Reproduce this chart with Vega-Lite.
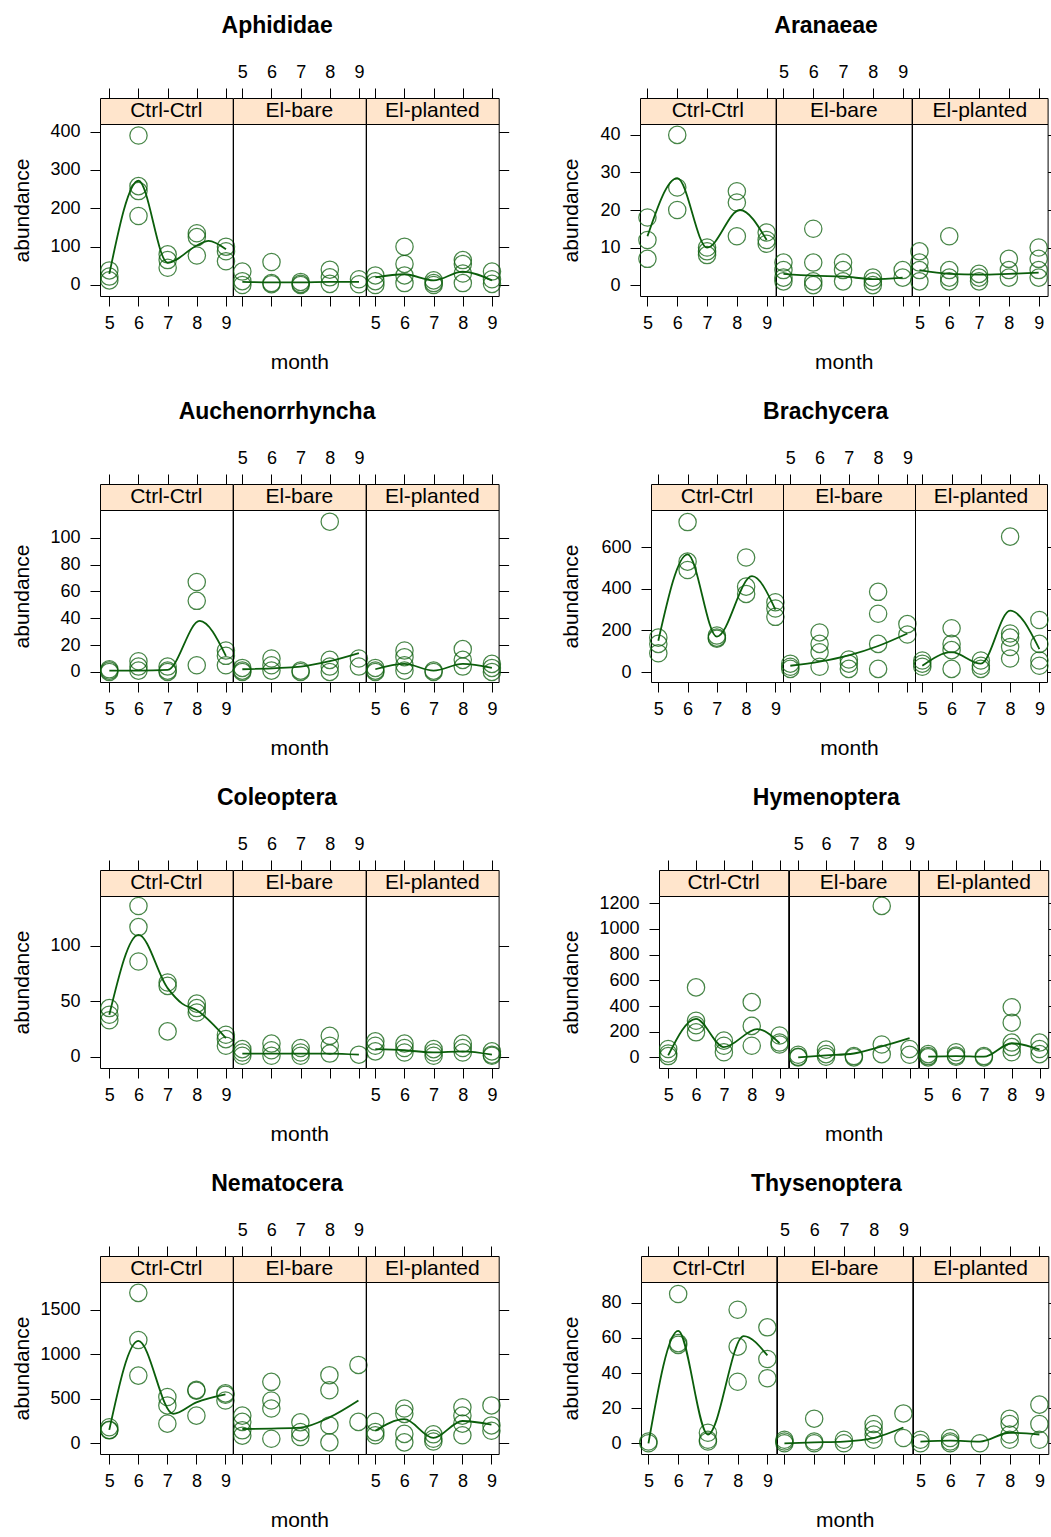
{
"$schema": "https://vega.github.io/schema/vega-lite/v6.json",
"background": "white",
"padding": {"left": 10, "top": 14, "right": 0, "bottom": 0},
"config": {
 "font": "Liberation Sans",
 "view": {"stroke": "black", "strokeWidth": 1},
 "axis": {"grid": false, "domain": false, "tickColor": "black", "tickSize": 10, "tickWidth": 1, "labelFontSize": 18, "labelColor": "black", "labelFont": "Liberation Sans", "titleFont": "Liberation Sans", "titleFontSize": 21, "titleFontWeight": "normal", "titleColor": "black"},
 "title": {"font": "Liberation Sans", "fontSize": 23, "fontWeight": "bold", "color": "black", "anchor": "middle"}
},
"datasets": {
"pts": [
{"sp":"Aphididae","treat":"Ctrl-Ctrl","month":5,"abundance":38},{"sp":"Aphididae","treat":"Ctrl-Ctrl","month":5,"abundance":22},{"sp":"Aphididae","treat":"Ctrl-Ctrl","month":5,"abundance":12},
{"sp":"Aphididae","treat":"Ctrl-Ctrl","month":6,"abundance":390},{"sp":"Aphididae","treat":"Ctrl-Ctrl","month":6,"abundance":258},{"sp":"Aphididae","treat":"Ctrl-Ctrl","month":6,"abundance":245},{"sp":"Aphididae","treat":"Ctrl-Ctrl","month":6,"abundance":180},
{"sp":"Aphididae","treat":"Ctrl-Ctrl","month":7,"abundance":80},{"sp":"Aphididae","treat":"Ctrl-Ctrl","month":7,"abundance":65},{"sp":"Aphididae","treat":"Ctrl-Ctrl","month":7,"abundance":45},
{"sp":"Aphididae","treat":"Ctrl-Ctrl","month":8,"abundance":135},{"sp":"Aphididae","treat":"Ctrl-Ctrl","month":8,"abundance":125},{"sp":"Aphididae","treat":"Ctrl-Ctrl","month":8,"abundance":77},
{"sp":"Aphididae","treat":"Ctrl-Ctrl","month":9,"abundance":100},{"sp":"Aphididae","treat":"Ctrl-Ctrl","month":9,"abundance":88},{"sp":"Aphididae","treat":"Ctrl-Ctrl","month":9,"abundance":62},
{"sp":"Aphididae","treat":"El-bare","month":5,"abundance":35},{"sp":"Aphididae","treat":"El-bare","month":5,"abundance":10},{"sp":"Aphididae","treat":"El-bare","month":5,"abundance":0},
{"sp":"Aphididae","treat":"El-bare","month":6,"abundance":60},{"sp":"Aphididae","treat":"El-bare","month":6,"abundance":5},{"sp":"Aphididae","treat":"El-bare","month":6,"abundance":2},
{"sp":"Aphididae","treat":"El-bare","month":7,"abundance":8},{"sp":"Aphididae","treat":"El-bare","month":7,"abundance":3},{"sp":"Aphididae","treat":"El-bare","month":7,"abundance":0},
{"sp":"Aphididae","treat":"El-bare","month":8,"abundance":40},{"sp":"Aphididae","treat":"El-bare","month":8,"abundance":20},{"sp":"Aphididae","treat":"El-bare","month":8,"abundance":3},
{"sp":"Aphididae","treat":"El-bare","month":9,"abundance":15},{"sp":"Aphididae","treat":"El-bare","month":9,"abundance":2},
{"sp":"Aphididae","treat":"El-planted","month":5,"abundance":25},{"sp":"Aphididae","treat":"El-planted","month":5,"abundance":10},{"sp":"Aphididae","treat":"El-planted","month":5,"abundance":0},
{"sp":"Aphididae","treat":"El-planted","month":6,"abundance":100},{"sp":"Aphididae","treat":"El-planted","month":6,"abundance":55},{"sp":"Aphididae","treat":"El-planted","month":6,"abundance":25},{"sp":"Aphididae","treat":"El-planted","month":6,"abundance":5},
{"sp":"Aphididae","treat":"El-planted","month":7,"abundance":12},{"sp":"Aphididae","treat":"El-planted","month":7,"abundance":5},{"sp":"Aphididae","treat":"El-planted","month":7,"abundance":0},
{"sp":"Aphididae","treat":"El-planted","month":8,"abundance":65},{"sp":"Aphididae","treat":"El-planted","month":8,"abundance":55},{"sp":"Aphididae","treat":"El-planted","month":8,"abundance":30},{"sp":"Aphididae","treat":"El-planted","month":8,"abundance":5},
{"sp":"Aphididae","treat":"El-planted","month":9,"abundance":35},{"sp":"Aphididae","treat":"El-planted","month":9,"abundance":15},{"sp":"Aphididae","treat":"El-planted","month":9,"abundance":3},

{"sp":"Aranaeae","treat":"Ctrl-Ctrl","month":5,"abundance":18},{"sp":"Aranaeae","treat":"Ctrl-Ctrl","month":5,"abundance":12},{"sp":"Aranaeae","treat":"Ctrl-Ctrl","month":5,"abundance":7},
{"sp":"Aranaeae","treat":"Ctrl-Ctrl","month":6,"abundance":40},{"sp":"Aranaeae","treat":"Ctrl-Ctrl","month":6,"abundance":26},{"sp":"Aranaeae","treat":"Ctrl-Ctrl","month":6,"abundance":20},
{"sp":"Aranaeae","treat":"Ctrl-Ctrl","month":7,"abundance":10},{"sp":"Aranaeae","treat":"Ctrl-Ctrl","month":7,"abundance":9},{"sp":"Aranaeae","treat":"Ctrl-Ctrl","month":7,"abundance":8},
{"sp":"Aranaeae","treat":"Ctrl-Ctrl","month":8,"abundance":25},{"sp":"Aranaeae","treat":"Ctrl-Ctrl","month":8,"abundance":22},{"sp":"Aranaeae","treat":"Ctrl-Ctrl","month":8,"abundance":13},
{"sp":"Aranaeae","treat":"Ctrl-Ctrl","month":9,"abundance":14},{"sp":"Aranaeae","treat":"Ctrl-Ctrl","month":9,"abundance":12},{"sp":"Aranaeae","treat":"Ctrl-Ctrl","month":9,"abundance":11},
{"sp":"Aranaeae","treat":"El-bare","month":5,"abundance":6},{"sp":"Aranaeae","treat":"El-bare","month":5,"abundance":4},{"sp":"Aranaeae","treat":"El-bare","month":5,"abundance":2},{"sp":"Aranaeae","treat":"El-bare","month":5,"abundance":1},
{"sp":"Aranaeae","treat":"El-bare","month":6,"abundance":15},{"sp":"Aranaeae","treat":"El-bare","month":6,"abundance":6},{"sp":"Aranaeae","treat":"El-bare","month":6,"abundance":1},{"sp":"Aranaeae","treat":"El-bare","month":6,"abundance":0},
{"sp":"Aranaeae","treat":"El-bare","month":7,"abundance":6},{"sp":"Aranaeae","treat":"El-bare","month":7,"abundance":4},{"sp":"Aranaeae","treat":"El-bare","month":7,"abundance":1},
{"sp":"Aranaeae","treat":"El-bare","month":8,"abundance":2},{"sp":"Aranaeae","treat":"El-bare","month":8,"abundance":1},{"sp":"Aranaeae","treat":"El-bare","month":8,"abundance":0},
{"sp":"Aranaeae","treat":"El-bare","month":9,"abundance":4},{"sp":"Aranaeae","treat":"El-bare","month":9,"abundance":2},
{"sp":"Aranaeae","treat":"El-planted","month":5,"abundance":9},{"sp":"Aranaeae","treat":"El-planted","month":5,"abundance":6},{"sp":"Aranaeae","treat":"El-planted","month":5,"abundance":4},{"sp":"Aranaeae","treat":"El-planted","month":5,"abundance":1},
{"sp":"Aranaeae","treat":"El-planted","month":6,"abundance":13},{"sp":"Aranaeae","treat":"El-planted","month":6,"abundance":4},{"sp":"Aranaeae","treat":"El-planted","month":6,"abundance":2},{"sp":"Aranaeae","treat":"El-planted","month":6,"abundance":1},
{"sp":"Aranaeae","treat":"El-planted","month":7,"abundance":3},{"sp":"Aranaeae","treat":"El-planted","month":7,"abundance":2},{"sp":"Aranaeae","treat":"El-planted","month":7,"abundance":1},
{"sp":"Aranaeae","treat":"El-planted","month":8,"abundance":7},{"sp":"Aranaeae","treat":"El-planted","month":8,"abundance":4},{"sp":"Aranaeae","treat":"El-planted","month":8,"abundance":2},
{"sp":"Aranaeae","treat":"El-planted","month":9,"abundance":10},{"sp":"Aranaeae","treat":"El-planted","month":9,"abundance":7},{"sp":"Aranaeae","treat":"El-planted","month":9,"abundance":4},{"sp":"Aranaeae","treat":"El-planted","month":9,"abundance":2},

{"sp":"Auchenorrhyncha","treat":"Ctrl-Ctrl","month":5,"abundance":2},{"sp":"Auchenorrhyncha","treat":"Ctrl-Ctrl","month":5,"abundance":1},{"sp":"Auchenorrhyncha","treat":"Ctrl-Ctrl","month":5,"abundance":0},
{"sp":"Auchenorrhyncha","treat":"Ctrl-Ctrl","month":6,"abundance":8},{"sp":"Auchenorrhyncha","treat":"Ctrl-Ctrl","month":6,"abundance":4},{"sp":"Auchenorrhyncha","treat":"Ctrl-Ctrl","month":6,"abundance":1},
{"sp":"Auchenorrhyncha","treat":"Ctrl-Ctrl","month":7,"abundance":4},{"sp":"Auchenorrhyncha","treat":"Ctrl-Ctrl","month":7,"abundance":1},{"sp":"Auchenorrhyncha","treat":"Ctrl-Ctrl","month":7,"abundance":0},
{"sp":"Auchenorrhyncha","treat":"Ctrl-Ctrl","month":8,"abundance":67},{"sp":"Auchenorrhyncha","treat":"Ctrl-Ctrl","month":8,"abundance":53},{"sp":"Auchenorrhyncha","treat":"Ctrl-Ctrl","month":8,"abundance":5},
{"sp":"Auchenorrhyncha","treat":"Ctrl-Ctrl","month":9,"abundance":16},{"sp":"Auchenorrhyncha","treat":"Ctrl-Ctrl","month":9,"abundance":12},{"sp":"Auchenorrhyncha","treat":"Ctrl-Ctrl","month":9,"abundance":5},
{"sp":"Auchenorrhyncha","treat":"El-bare","month":5,"abundance":3},{"sp":"Auchenorrhyncha","treat":"El-bare","month":5,"abundance":1},{"sp":"Auchenorrhyncha","treat":"El-bare","month":5,"abundance":0},
{"sp":"Auchenorrhyncha","treat":"El-bare","month":6,"abundance":10},{"sp":"Auchenorrhyncha","treat":"El-bare","month":6,"abundance":5},{"sp":"Auchenorrhyncha","treat":"El-bare","month":6,"abundance":1},
{"sp":"Auchenorrhyncha","treat":"El-bare","month":7,"abundance":1},{"sp":"Auchenorrhyncha","treat":"El-bare","month":7,"abundance":0},
{"sp":"Auchenorrhyncha","treat":"El-bare","month":8,"abundance":112},{"sp":"Auchenorrhyncha","treat":"El-bare","month":8,"abundance":9},{"sp":"Auchenorrhyncha","treat":"El-bare","month":8,"abundance":4},{"sp":"Auchenorrhyncha","treat":"El-bare","month":8,"abundance":0},
{"sp":"Auchenorrhyncha","treat":"El-bare","month":9,"abundance":10},{"sp":"Auchenorrhyncha","treat":"El-bare","month":9,"abundance":4},
{"sp":"Auchenorrhyncha","treat":"El-planted","month":5,"abundance":3},{"sp":"Auchenorrhyncha","treat":"El-planted","month":5,"abundance":1},{"sp":"Auchenorrhyncha","treat":"El-planted","month":5,"abundance":0},
{"sp":"Auchenorrhyncha","treat":"El-planted","month":6,"abundance":16},{"sp":"Auchenorrhyncha","treat":"El-planted","month":6,"abundance":11},{"sp":"Auchenorrhyncha","treat":"El-planted","month":6,"abundance":5},{"sp":"Auchenorrhyncha","treat":"El-planted","month":6,"abundance":1},
{"sp":"Auchenorrhyncha","treat":"El-planted","month":7,"abundance":1},{"sp":"Auchenorrhyncha","treat":"El-planted","month":7,"abundance":0},
{"sp":"Auchenorrhyncha","treat":"El-planted","month":8,"abundance":17},{"sp":"Auchenorrhyncha","treat":"El-planted","month":8,"abundance":9},{"sp":"Auchenorrhyncha","treat":"El-planted","month":8,"abundance":4},
{"sp":"Auchenorrhyncha","treat":"El-planted","month":9,"abundance":6},{"sp":"Auchenorrhyncha","treat":"El-planted","month":9,"abundance":3},{"sp":"Auchenorrhyncha","treat":"El-planted","month":9,"abundance":0},

{"sp":"Brachycera","treat":"Ctrl-Ctrl","month":5,"abundance":165},{"sp":"Brachycera","treat":"Ctrl-Ctrl","month":5,"abundance":135},{"sp":"Brachycera","treat":"Ctrl-Ctrl","month":5,"abundance":90},
{"sp":"Brachycera","treat":"Ctrl-Ctrl","month":6,"abundance":720},{"sp":"Brachycera","treat":"Ctrl-Ctrl","month":6,"abundance":530},{"sp":"Brachycera","treat":"Ctrl-Ctrl","month":6,"abundance":490},
{"sp":"Brachycera","treat":"Ctrl-Ctrl","month":7,"abundance":175},{"sp":"Brachycera","treat":"Ctrl-Ctrl","month":7,"abundance":165},{"sp":"Brachycera","treat":"Ctrl-Ctrl","month":7,"abundance":160},
{"sp":"Brachycera","treat":"Ctrl-Ctrl","month":8,"abundance":550},{"sp":"Brachycera","treat":"Ctrl-Ctrl","month":8,"abundance":410},{"sp":"Brachycera","treat":"Ctrl-Ctrl","month":8,"abundance":375},
{"sp":"Brachycera","treat":"Ctrl-Ctrl","month":9,"abundance":335},{"sp":"Brachycera","treat":"Ctrl-Ctrl","month":9,"abundance":305},{"sp":"Brachycera","treat":"Ctrl-Ctrl","month":9,"abundance":265},
{"sp":"Brachycera","treat":"El-bare","month":5,"abundance":40},{"sp":"Brachycera","treat":"El-bare","month":5,"abundance":25},{"sp":"Brachycera","treat":"El-bare","month":5,"abundance":15},
{"sp":"Brachycera","treat":"El-bare","month":6,"abundance":190},{"sp":"Brachycera","treat":"El-bare","month":6,"abundance":135},{"sp":"Brachycera","treat":"El-bare","month":6,"abundance":95},{"sp":"Brachycera","treat":"El-bare","month":6,"abundance":25},
{"sp":"Brachycera","treat":"El-bare","month":7,"abundance":60},{"sp":"Brachycera","treat":"El-bare","month":7,"abundance":40},{"sp":"Brachycera","treat":"El-bare","month":7,"abundance":15},
{"sp":"Brachycera","treat":"El-bare","month":8,"abundance":385},{"sp":"Brachycera","treat":"El-bare","month":8,"abundance":280},{"sp":"Brachycera","treat":"El-bare","month":8,"abundance":135},{"sp":"Brachycera","treat":"El-bare","month":8,"abundance":15},
{"sp":"Brachycera","treat":"El-bare","month":9,"abundance":230},{"sp":"Brachycera","treat":"El-bare","month":9,"abundance":180},
{"sp":"Brachycera","treat":"El-planted","month":5,"abundance":55},{"sp":"Brachycera","treat":"El-planted","month":5,"abundance":40},{"sp":"Brachycera","treat":"El-planted","month":5,"abundance":25},
{"sp":"Brachycera","treat":"El-planted","month":6,"abundance":210},{"sp":"Brachycera","treat":"El-planted","month":6,"abundance":135},{"sp":"Brachycera","treat":"El-planted","month":6,"abundance":105},{"sp":"Brachycera","treat":"El-planted","month":6,"abundance":15},
{"sp":"Brachycera","treat":"El-planted","month":7,"abundance":55},{"sp":"Brachycera","treat":"El-planted","month":7,"abundance":30},{"sp":"Brachycera","treat":"El-planted","month":7,"abundance":15},
{"sp":"Brachycera","treat":"El-planted","month":8,"abundance":650},{"sp":"Brachycera","treat":"El-planted","month":8,"abundance":185},{"sp":"Brachycera","treat":"El-planted","month":8,"abundance":165},{"sp":"Brachycera","treat":"El-planted","month":8,"abundance":120},{"sp":"Brachycera","treat":"El-planted","month":8,"abundance":65},
{"sp":"Brachycera","treat":"El-planted","month":9,"abundance":250},{"sp":"Brachycera","treat":"El-planted","month":9,"abundance":135},{"sp":"Brachycera","treat":"El-planted","month":9,"abundance":55},{"sp":"Brachycera","treat":"El-planted","month":9,"abundance":30},

{"sp":"Coleoptera","treat":"Ctrl-Ctrl","month":5,"abundance":44},{"sp":"Coleoptera","treat":"Ctrl-Ctrl","month":5,"abundance":38},{"sp":"Coleoptera","treat":"Ctrl-Ctrl","month":5,"abundance":33},
{"sp":"Coleoptera","treat":"Ctrl-Ctrl","month":6,"abundance":136},{"sp":"Coleoptera","treat":"Ctrl-Ctrl","month":6,"abundance":117},{"sp":"Coleoptera","treat":"Ctrl-Ctrl","month":6,"abundance":86},
{"sp":"Coleoptera","treat":"Ctrl-Ctrl","month":7,"abundance":67},{"sp":"Coleoptera","treat":"Ctrl-Ctrl","month":7,"abundance":64},{"sp":"Coleoptera","treat":"Ctrl-Ctrl","month":7,"abundance":23},
{"sp":"Coleoptera","treat":"Ctrl-Ctrl","month":8,"abundance":48},{"sp":"Coleoptera","treat":"Ctrl-Ctrl","month":8,"abundance":44},{"sp":"Coleoptera","treat":"Ctrl-Ctrl","month":8,"abundance":40},
{"sp":"Coleoptera","treat":"Ctrl-Ctrl","month":9,"abundance":20},{"sp":"Coleoptera","treat":"Ctrl-Ctrl","month":9,"abundance":16},{"sp":"Coleoptera","treat":"Ctrl-Ctrl","month":9,"abundance":10},
{"sp":"Coleoptera","treat":"El-bare","month":5,"abundance":7},{"sp":"Coleoptera","treat":"El-bare","month":5,"abundance":4},{"sp":"Coleoptera","treat":"El-bare","month":5,"abundance":1},
{"sp":"Coleoptera","treat":"El-bare","month":6,"abundance":12},{"sp":"Coleoptera","treat":"El-bare","month":6,"abundance":6},{"sp":"Coleoptera","treat":"El-bare","month":6,"abundance":1},
{"sp":"Coleoptera","treat":"El-bare","month":7,"abundance":8},{"sp":"Coleoptera","treat":"El-bare","month":7,"abundance":4},{"sp":"Coleoptera","treat":"El-bare","month":7,"abundance":1},
{"sp":"Coleoptera","treat":"El-bare","month":8,"abundance":19},{"sp":"Coleoptera","treat":"El-bare","month":8,"abundance":10},{"sp":"Coleoptera","treat":"El-bare","month":8,"abundance":3},
{"sp":"Coleoptera","treat":"El-bare","month":9,"abundance":2},
{"sp":"Coleoptera","treat":"El-planted","month":5,"abundance":14},{"sp":"Coleoptera","treat":"El-planted","month":5,"abundance":10},{"sp":"Coleoptera","treat":"El-planted","month":5,"abundance":5},
{"sp":"Coleoptera","treat":"El-planted","month":6,"abundance":12},{"sp":"Coleoptera","treat":"El-planted","month":6,"abundance":8},{"sp":"Coleoptera","treat":"El-planted","month":6,"abundance":4},
{"sp":"Coleoptera","treat":"El-planted","month":7,"abundance":7},{"sp":"Coleoptera","treat":"El-planted","month":7,"abundance":4},{"sp":"Coleoptera","treat":"El-planted","month":7,"abundance":1},
{"sp":"Coleoptera","treat":"El-planted","month":8,"abundance":12},{"sp":"Coleoptera","treat":"El-planted","month":8,"abundance":8},{"sp":"Coleoptera","treat":"El-planted","month":8,"abundance":4},
{"sp":"Coleoptera","treat":"El-planted","month":9,"abundance":5},{"sp":"Coleoptera","treat":"El-planted","month":9,"abundance":2},{"sp":"Coleoptera","treat":"El-planted","month":9,"abundance":1},

{"sp":"Hymenoptera","treat":"Ctrl-Ctrl","month":5,"abundance":65},{"sp":"Hymenoptera","treat":"Ctrl-Ctrl","month":5,"abundance":30},{"sp":"Hymenoptera","treat":"Ctrl-Ctrl","month":5,"abundance":10},
{"sp":"Hymenoptera","treat":"Ctrl-Ctrl","month":6,"abundance":545},{"sp":"Hymenoptera","treat":"Ctrl-Ctrl","month":6,"abundance":285},{"sp":"Hymenoptera","treat":"Ctrl-Ctrl","month":6,"abundance":250},{"sp":"Hymenoptera","treat":"Ctrl-Ctrl","month":6,"abundance":195},
{"sp":"Hymenoptera","treat":"Ctrl-Ctrl","month":7,"abundance":130},{"sp":"Hymenoptera","treat":"Ctrl-Ctrl","month":7,"abundance":90},{"sp":"Hymenoptera","treat":"Ctrl-Ctrl","month":7,"abundance":40},
{"sp":"Hymenoptera","treat":"Ctrl-Ctrl","month":8,"abundance":430},{"sp":"Hymenoptera","treat":"Ctrl-Ctrl","month":8,"abundance":245},{"sp":"Hymenoptera","treat":"Ctrl-Ctrl","month":8,"abundance":90},
{"sp":"Hymenoptera","treat":"Ctrl-Ctrl","month":9,"abundance":170},{"sp":"Hymenoptera","treat":"Ctrl-Ctrl","month":9,"abundance":115},{"sp":"Hymenoptera","treat":"Ctrl-Ctrl","month":9,"abundance":100},
{"sp":"Hymenoptera","treat":"El-bare","month":5,"abundance":20},{"sp":"Hymenoptera","treat":"El-bare","month":5,"abundance":5},{"sp":"Hymenoptera","treat":"El-bare","month":5,"abundance":0},
{"sp":"Hymenoptera","treat":"El-bare","month":6,"abundance":60},{"sp":"Hymenoptera","treat":"El-bare","month":6,"abundance":25},{"sp":"Hymenoptera","treat":"El-bare","month":6,"abundance":5},
{"sp":"Hymenoptera","treat":"El-bare","month":7,"abundance":10},{"sp":"Hymenoptera","treat":"El-bare","month":7,"abundance":0},
{"sp":"Hymenoptera","treat":"El-bare","month":8,"abundance":1180},{"sp":"Hymenoptera","treat":"El-bare","month":8,"abundance":100},{"sp":"Hymenoptera","treat":"El-bare","month":8,"abundance":25},
{"sp":"Hymenoptera","treat":"El-bare","month":9,"abundance":65},{"sp":"Hymenoptera","treat":"El-bare","month":9,"abundance":20},
{"sp":"Hymenoptera","treat":"El-planted","month":5,"abundance":25},{"sp":"Hymenoptera","treat":"El-planted","month":5,"abundance":10},{"sp":"Hymenoptera","treat":"El-planted","month":5,"abundance":0},
{"sp":"Hymenoptera","treat":"El-planted","month":6,"abundance":40},{"sp":"Hymenoptera","treat":"El-planted","month":6,"abundance":15},{"sp":"Hymenoptera","treat":"El-planted","month":6,"abundance":5},
{"sp":"Hymenoptera","treat":"El-planted","month":7,"abundance":10},{"sp":"Hymenoptera","treat":"El-planted","month":7,"abundance":0},
{"sp":"Hymenoptera","treat":"El-planted","month":8,"abundance":390},{"sp":"Hymenoptera","treat":"El-planted","month":8,"abundance":270},{"sp":"Hymenoptera","treat":"El-planted","month":8,"abundance":115},{"sp":"Hymenoptera","treat":"El-planted","month":8,"abundance":80},{"sp":"Hymenoptera","treat":"El-planted","month":8,"abundance":40},
{"sp":"Hymenoptera","treat":"El-planted","month":9,"abundance":115},{"sp":"Hymenoptera","treat":"El-planted","month":9,"abundance":65},{"sp":"Hymenoptera","treat":"El-planted","month":9,"abundance":25},

{"sp":"Nematocera","treat":"Ctrl-Ctrl","month":5,"abundance":180},{"sp":"Nematocera","treat":"Ctrl-Ctrl","month":5,"abundance":150},{"sp":"Nematocera","treat":"Ctrl-Ctrl","month":5,"abundance":145},
{"sp":"Nematocera","treat":"Ctrl-Ctrl","month":6,"abundance":1690},{"sp":"Nematocera","treat":"Ctrl-Ctrl","month":6,"abundance":1160},{"sp":"Nematocera","treat":"Ctrl-Ctrl","month":6,"abundance":760},
{"sp":"Nematocera","treat":"Ctrl-Ctrl","month":7,"abundance":520},{"sp":"Nematocera","treat":"Ctrl-Ctrl","month":7,"abundance":425},{"sp":"Nematocera","treat":"Ctrl-Ctrl","month":7,"abundance":220},
{"sp":"Nematocera","treat":"Ctrl-Ctrl","month":8,"abundance":600},{"sp":"Nematocera","treat":"Ctrl-Ctrl","month":8,"abundance":590},{"sp":"Nematocera","treat":"Ctrl-Ctrl","month":8,"abundance":310},
{"sp":"Nematocera","treat":"Ctrl-Ctrl","month":9,"abundance":560},{"sp":"Nematocera","treat":"Ctrl-Ctrl","month":9,"abundance":545},{"sp":"Nematocera","treat":"Ctrl-Ctrl","month":9,"abundance":480},
{"sp":"Nematocera","treat":"El-bare","month":5,"abundance":310},{"sp":"Nematocera","treat":"El-bare","month":5,"abundance":240},{"sp":"Nematocera","treat":"El-bare","month":5,"abundance":145},{"sp":"Nematocera","treat":"El-bare","month":5,"abundance":85},
{"sp":"Nematocera","treat":"El-bare","month":6,"abundance":690},{"sp":"Nematocera","treat":"El-bare","month":6,"abundance":480},{"sp":"Nematocera","treat":"El-bare","month":6,"abundance":390},{"sp":"Nematocera","treat":"El-bare","month":6,"abundance":50},
{"sp":"Nematocera","treat":"El-bare","month":7,"abundance":235},{"sp":"Nematocera","treat":"El-bare","month":7,"abundance":125},{"sp":"Nematocera","treat":"El-bare","month":7,"abundance":70},
{"sp":"Nematocera","treat":"El-bare","month":8,"abundance":765},{"sp":"Nematocera","treat":"El-bare","month":8,"abundance":595},{"sp":"Nematocera","treat":"El-bare","month":8,"abundance":200},{"sp":"Nematocera","treat":"El-bare","month":8,"abundance":10},
{"sp":"Nematocera","treat":"El-bare","month":9,"abundance":880},{"sp":"Nematocera","treat":"El-bare","month":9,"abundance":240},
{"sp":"Nematocera","treat":"El-planted","month":5,"abundance":240},{"sp":"Nematocera","treat":"El-planted","month":5,"abundance":125},{"sp":"Nematocera","treat":"El-planted","month":5,"abundance":90},
{"sp":"Nematocera","treat":"El-planted","month":6,"abundance":390},{"sp":"Nematocera","treat":"El-planted","month":6,"abundance":330},{"sp":"Nematocera","treat":"El-planted","month":6,"abundance":105},{"sp":"Nematocera","treat":"El-planted","month":6,"abundance":10},
{"sp":"Nematocera","treat":"El-planted","month":7,"abundance":100},{"sp":"Nematocera","treat":"El-planted","month":7,"abundance":50},{"sp":"Nematocera","treat":"El-planted","month":7,"abundance":20},
{"sp":"Nematocera","treat":"El-planted","month":8,"abundance":405},{"sp":"Nematocera","treat":"El-planted","month":8,"abundance":310},{"sp":"Nematocera","treat":"El-planted","month":8,"abundance":220},{"sp":"Nematocera","treat":"El-planted","month":8,"abundance":90},
{"sp":"Nematocera","treat":"El-planted","month":9,"abundance":425},{"sp":"Nematocera","treat":"El-planted","month":9,"abundance":200},{"sp":"Nematocera","treat":"El-planted","month":9,"abundance":140},

{"sp":"Thysenoptera","treat":"Ctrl-Ctrl","month":5,"abundance":1},{"sp":"Thysenoptera","treat":"Ctrl-Ctrl","month":5,"abundance":0},
{"sp":"Thysenoptera","treat":"Ctrl-Ctrl","month":6,"abundance":85},{"sp":"Thysenoptera","treat":"Ctrl-Ctrl","month":6,"abundance":57},{"sp":"Thysenoptera","treat":"Ctrl-Ctrl","month":6,"abundance":56},
{"sp":"Thysenoptera","treat":"Ctrl-Ctrl","month":7,"abundance":6},{"sp":"Thysenoptera","treat":"Ctrl-Ctrl","month":7,"abundance":2},{"sp":"Thysenoptera","treat":"Ctrl-Ctrl","month":7,"abundance":1},
{"sp":"Thysenoptera","treat":"Ctrl-Ctrl","month":8,"abundance":76},{"sp":"Thysenoptera","treat":"Ctrl-Ctrl","month":8,"abundance":55},{"sp":"Thysenoptera","treat":"Ctrl-Ctrl","month":8,"abundance":35},
{"sp":"Thysenoptera","treat":"Ctrl-Ctrl","month":9,"abundance":66},{"sp":"Thysenoptera","treat":"Ctrl-Ctrl","month":9,"abundance":48},{"sp":"Thysenoptera","treat":"Ctrl-Ctrl","month":9,"abundance":37},
{"sp":"Thysenoptera","treat":"El-bare","month":5,"abundance":2},{"sp":"Thysenoptera","treat":"El-bare","month":5,"abundance":1},{"sp":"Thysenoptera","treat":"El-bare","month":5,"abundance":0},
{"sp":"Thysenoptera","treat":"El-bare","month":6,"abundance":14},{"sp":"Thysenoptera","treat":"El-bare","month":6,"abundance":1},{"sp":"Thysenoptera","treat":"El-bare","month":6,"abundance":0},
{"sp":"Thysenoptera","treat":"El-bare","month":7,"abundance":2},{"sp":"Thysenoptera","treat":"El-bare","month":7,"abundance":0},
{"sp":"Thysenoptera","treat":"El-bare","month":8,"abundance":11},{"sp":"Thysenoptera","treat":"El-bare","month":8,"abundance":8},{"sp":"Thysenoptera","treat":"El-bare","month":8,"abundance":5},{"sp":"Thysenoptera","treat":"El-bare","month":8,"abundance":2},
{"sp":"Thysenoptera","treat":"El-bare","month":9,"abundance":17},{"sp":"Thysenoptera","treat":"El-bare","month":9,"abundance":3},
{"sp":"Thysenoptera","treat":"El-planted","month":5,"abundance":2},{"sp":"Thysenoptera","treat":"El-planted","month":5,"abundance":0},
{"sp":"Thysenoptera","treat":"El-planted","month":6,"abundance":3},{"sp":"Thysenoptera","treat":"El-planted","month":6,"abundance":1},{"sp":"Thysenoptera","treat":"El-planted","month":6,"abundance":0},
{"sp":"Thysenoptera","treat":"El-planted","month":7,"abundance":0},
{"sp":"Thysenoptera","treat":"El-planted","month":8,"abundance":14},{"sp":"Thysenoptera","treat":"El-planted","month":8,"abundance":11},{"sp":"Thysenoptera","treat":"El-planted","month":8,"abundance":5},{"sp":"Thysenoptera","treat":"El-planted","month":8,"abundance":2},
{"sp":"Thysenoptera","treat":"El-planted","month":9,"abundance":22},{"sp":"Thysenoptera","treat":"El-planted","month":9,"abundance":11},{"sp":"Thysenoptera","treat":"El-planted","month":9,"abundance":2}
],
"fit": [
{"sp":"Aphididae","treat":"Ctrl-Ctrl","month":5,"fit":29},{"sp":"Aphididae","treat":"Ctrl-Ctrl","month":6,"fit":272},{"sp":"Aphididae","treat":"Ctrl-Ctrl","month":7,"fit":58},{"sp":"Aphididae","treat":"Ctrl-Ctrl","month":8,"fit":103},{"sp":"Aphididae","treat":"Ctrl-Ctrl","month":8.4,"fit":115},{"sp":"Aphididae","treat":"Ctrl-Ctrl","month":9,"fit":93},
{"sp":"Aphididae","treat":"El-bare","month":5,"fit":8},{"sp":"Aphididae","treat":"El-bare","month":6,"fit":7},{"sp":"Aphididae","treat":"El-bare","month":7,"fit":7},{"sp":"Aphididae","treat":"El-bare","month":8,"fit":8},{"sp":"Aphididae","treat":"El-bare","month":9,"fit":8},
{"sp":"Aphididae","treat":"El-planted","month":5,"fit":20},{"sp":"Aphididae","treat":"El-planted","month":6,"fit":28},{"sp":"Aphididae","treat":"El-planted","month":7,"fit":12},{"sp":"Aphididae","treat":"El-planted","month":8,"fit":35},{"sp":"Aphididae","treat":"El-planted","month":9,"fit":12},
{"sp":"Aranaeae","treat":"Ctrl-Ctrl","month":5,"fit":13},{"sp":"Aranaeae","treat":"Ctrl-Ctrl","month":6,"fit":28.5},{"sp":"Aranaeae","treat":"Ctrl-Ctrl","month":7,"fit":10},{"sp":"Aranaeae","treat":"Ctrl-Ctrl","month":8.1,"fit":20},{"sp":"Aranaeae","treat":"Ctrl-Ctrl","month":9,"fit":12},
{"sp":"Aranaeae","treat":"El-bare","month":5,"fit":3},{"sp":"Aranaeae","treat":"El-bare","month":6,"fit":2.5},{"sp":"Aranaeae","treat":"El-bare","month":7,"fit":2.3},{"sp":"Aranaeae","treat":"El-bare","month":8,"fit":1.6},{"sp":"Aranaeae","treat":"El-bare","month":9,"fit":2},
{"sp":"Aranaeae","treat":"El-planted","month":5,"fit":4},{"sp":"Aranaeae","treat":"El-planted","month":6,"fit":3},{"sp":"Aranaeae","treat":"El-planted","month":7,"fit":2.8},{"sp":"Aranaeae","treat":"El-planted","month":8,"fit":3},{"sp":"Aranaeae","treat":"El-planted","month":9,"fit":3.3},
{"sp":"Auchenorrhyncha","treat":"Ctrl-Ctrl","month":5,"fit":1},{"sp":"Auchenorrhyncha","treat":"Ctrl-Ctrl","month":6,"fit":1},{"sp":"Auchenorrhyncha","treat":"Ctrl-Ctrl","month":7,"fit":1.5},{"sp":"Auchenorrhyncha","treat":"Ctrl-Ctrl","month":8.1,"fit":38},{"sp":"Auchenorrhyncha","treat":"Ctrl-Ctrl","month":9,"fit":12},
{"sp":"Auchenorrhyncha","treat":"El-bare","month":5,"fit":2},{"sp":"Auchenorrhyncha","treat":"El-bare","month":7,"fit":4},{"sp":"Auchenorrhyncha","treat":"El-bare","month":8,"fit":8},{"sp":"Auchenorrhyncha","treat":"El-bare","month":9,"fit":14},
{"sp":"Auchenorrhyncha","treat":"El-planted","month":5,"fit":2},{"sp":"Auchenorrhyncha","treat":"El-planted","month":6,"fit":6},{"sp":"Auchenorrhyncha","treat":"El-planted","month":7,"fit":1},{"sp":"Auchenorrhyncha","treat":"El-planted","month":8,"fit":6},{"sp":"Auchenorrhyncha","treat":"El-planted","month":9,"fit":3},
{"sp":"Brachycera","treat":"Ctrl-Ctrl","month":5,"fit":150},{"sp":"Brachycera","treat":"Ctrl-Ctrl","month":6,"fit":565},{"sp":"Brachycera","treat":"Ctrl-Ctrl","month":7,"fit":170},{"sp":"Brachycera","treat":"Ctrl-Ctrl","month":8.2,"fit":460},{"sp":"Brachycera","treat":"Ctrl-Ctrl","month":9,"fit":300},
{"sp":"Brachycera","treat":"El-bare","month":5,"fit":30},{"sp":"Brachycera","treat":"El-bare","month":6,"fit":50},{"sp":"Brachycera","treat":"El-bare","month":7,"fit":80},{"sp":"Brachycera","treat":"El-bare","month":8,"fit":125},{"sp":"Brachycera","treat":"El-bare","month":9,"fit":185},
{"sp":"Brachycera","treat":"El-planted","month":5,"fit":30},{"sp":"Brachycera","treat":"El-planted","month":6,"fit":95},{"sp":"Brachycera","treat":"El-planted","month":7,"fit":40},{"sp":"Brachycera","treat":"El-planted","month":8,"fit":295},{"sp":"Brachycera","treat":"El-planted","month":9,"fit":110},
{"sp":"Coleoptera","treat":"Ctrl-Ctrl","month":5,"fit":38},{"sp":"Coleoptera","treat":"Ctrl-Ctrl","month":6,"fit":110},{"sp":"Coleoptera","treat":"Ctrl-Ctrl","month":7,"fit":62},{"sp":"Coleoptera","treat":"Ctrl-Ctrl","month":7.5,"fit":48},{"sp":"Coleoptera","treat":"Ctrl-Ctrl","month":8,"fit":42},{"sp":"Coleoptera","treat":"Ctrl-Ctrl","month":9,"fit":17},
{"sp":"Coleoptera","treat":"El-bare","month":5,"fit":3},{"sp":"Coleoptera","treat":"El-bare","month":6,"fit":3},{"sp":"Coleoptera","treat":"El-bare","month":7,"fit":3},{"sp":"Coleoptera","treat":"El-bare","month":8,"fit":3},{"sp":"Coleoptera","treat":"El-bare","month":9,"fit":2},
{"sp":"Coleoptera","treat":"El-planted","month":5,"fit":7},{"sp":"Coleoptera","treat":"El-planted","month":6,"fit":6},{"sp":"Coleoptera","treat":"El-planted","month":7,"fit":4},{"sp":"Coleoptera","treat":"El-planted","month":8,"fit":5},{"sp":"Coleoptera","treat":"El-planted","month":9,"fit":2},
{"sp":"Hymenoptera","treat":"Ctrl-Ctrl","month":5,"fit":15},{"sp":"Hymenoptera","treat":"Ctrl-Ctrl","month":6,"fit":300},{"sp":"Hymenoptera","treat":"Ctrl-Ctrl","month":7,"fit":80},{"sp":"Hymenoptera","treat":"Ctrl-Ctrl","month":8.2,"fit":220},{"sp":"Hymenoptera","treat":"Ctrl-Ctrl","month":9,"fit":110},
{"sp":"Hymenoptera","treat":"El-bare","month":5,"fit":0},{"sp":"Hymenoptera","treat":"El-bare","month":6,"fit":15},{"sp":"Hymenoptera","treat":"El-bare","month":7,"fit":30},{"sp":"Hymenoptera","treat":"El-bare","month":8,"fit":85},{"sp":"Hymenoptera","treat":"El-bare","month":9,"fit":150},
{"sp":"Hymenoptera","treat":"El-planted","month":5,"fit":5},{"sp":"Hymenoptera","treat":"El-planted","month":6,"fit":10},{"sp":"Hymenoptera","treat":"El-planted","month":7,"fit":5},{"sp":"Hymenoptera","treat":"El-planted","month":8,"fit":110},{"sp":"Hymenoptera","treat":"El-planted","month":9,"fit":60},
{"sp":"Nematocera","treat":"Ctrl-Ctrl","month":5,"fit":150},{"sp":"Nematocera","treat":"Ctrl-Ctrl","month":6,"fit":1150},{"sp":"Nematocera","treat":"Ctrl-Ctrl","month":7.2,"fit":330},{"sp":"Nematocera","treat":"Ctrl-Ctrl","month":8,"fit":460},{"sp":"Nematocera","treat":"Ctrl-Ctrl","month":9,"fit":550},
{"sp":"Nematocera","treat":"El-bare","month":5,"fit":160},{"sp":"Nematocera","treat":"El-bare","month":6,"fit":165},{"sp":"Nematocera","treat":"El-bare","month":7,"fit":175},{"sp":"Nematocera","treat":"El-bare","month":8,"fit":290},{"sp":"Nematocera","treat":"El-bare","month":9,"fit":480},
{"sp":"Nematocera","treat":"El-planted","month":5,"fit":140},{"sp":"Nematocera","treat":"El-planted","month":6,"fit":270},{"sp":"Nematocera","treat":"El-planted","month":7,"fit":60},{"sp":"Nematocera","treat":"El-planted","month":8,"fit":250},{"sp":"Nematocera","treat":"El-planted","month":9,"fit":210},
{"sp":"Thysenoptera","treat":"Ctrl-Ctrl","month":5,"fit":0},{"sp":"Thysenoptera","treat":"Ctrl-Ctrl","month":6,"fit":64},{"sp":"Thysenoptera","treat":"Ctrl-Ctrl","month":7,"fit":5},{"sp":"Thysenoptera","treat":"Ctrl-Ctrl","month":8.2,"fit":61},{"sp":"Thysenoptera","treat":"Ctrl-Ctrl","month":9,"fit":50},
{"sp":"Thysenoptera","treat":"El-bare","month":5,"fit":0},{"sp":"Thysenoptera","treat":"El-bare","month":6,"fit":0.5},{"sp":"Thysenoptera","treat":"El-bare","month":7,"fit":1},{"sp":"Thysenoptera","treat":"El-bare","month":8,"fit":3},{"sp":"Thysenoptera","treat":"El-bare","month":9,"fit":9},
{"sp":"Thysenoptera","treat":"El-planted","month":5,"fit":1},{"sp":"Thysenoptera","treat":"El-planted","month":6,"fit":1.5},{"sp":"Thysenoptera","treat":"El-planted","month":7,"fit":1},{"sp":"Thysenoptera","treat":"El-planted","month":8,"fit":6},{"sp":"Thysenoptera","treat":"El-planted","month":9,"fit":5}
]
},
"columns": 2, "align": "none", "spacing": {"row": 27, "column": 49},
"concat": [
{"title": {"text": "Aphididae", "anchor": "middle", "offset": 25, "dx": 17}, "columns": 3, "spacing": 0, "bounds": "flush", "concat": [
  {"width": 132.7, "height": 26, "view": {"fill": "#FFE5CC", "stroke": "black"}, "data": {"name": "pts"}, "transform": [{"filter": "datum.sp === 'Aphididae' && datum.treat === 'Ctrl-Ctrl'"}], "layer": [
    {"mark": {"type": "point", "opacity": 0}, "encoding": {"x": {"field": "month", "type": "quantitative", "scale": {"domain": [4.68, 9.23], "nice": false, "zero": false}, "axis": {"orient": "top", "values": [5,6,7,8,9], "title": null, "labelOpacity": 0, "labelPadding": 7}}}},
    {"transform": [{"aggregate": [{"op": "count", "as": "n"}], "groupby": ["treat"]}], "mark": {"type": "text", "fontSize": 21, "color": "black"}, "encoding": {"text": {"field": "treat"}}}]},
  {"width": 132.7, "height": 26, "view": {"fill": "#FFE5CC", "stroke": "black"}, "data": {"name": "pts"}, "transform": [{"filter": "datum.sp === 'Aphididae' && datum.treat === 'El-bare'"}], "layer": [
    {"mark": {"type": "point", "opacity": 0}, "encoding": {"x": {"field": "month", "type": "quantitative", "scale": {"domain": [4.68, 9.23], "nice": false, "zero": false}, "axis": {"orient": "top", "values": [5,6,7,8,9], "title": null, "labelPadding": 7}}}},
    {"transform": [{"aggregate": [{"op": "count", "as": "n"}], "groupby": ["treat"]}], "mark": {"type": "text", "fontSize": 21, "color": "black"}, "encoding": {"text": {"field": "treat"}}}]},
  {"width": 132.7, "height": 26, "view": {"fill": "#FFE5CC", "stroke": "black"}, "data": {"name": "pts"}, "transform": [{"filter": "datum.sp === 'Aphididae' && datum.treat === 'El-planted'"}], "layer": [
    {"mark": {"type": "point", "opacity": 0}, "encoding": {"x": {"field": "month", "type": "quantitative", "scale": {"domain": [4.68, 9.23], "nice": false, "zero": false}, "axis": {"orient": "top", "values": [5,6,7,8,9], "title": null, "labelOpacity": 0, "labelPadding": 7}}}},
    {"transform": [{"aggregate": [{"op": "count", "as": "n"}], "groupby": ["treat"]}], "mark": {"type": "text", "fontSize": 21, "color": "black"}, "encoding": {"text": {"field": "treat"}}}]},
  {"width": 132.7, "height": 172, "layer": [
    {"data": {"name": "pts"}, "transform": [{"filter": "datum.sp === 'Aphididae' && datum.treat === 'Ctrl-Ctrl'"}], "mark": {"type": "point", "shape": "circle", "filled": false, "size": 300, "color": "#0b5e0b", "strokeWidth": 1.25, "opacity": 0.75},
     "encoding": {"x": {"field": "month", "type": "quantitative", "scale": {"domain": [4.68, 9.23], "nice": false, "zero": false}, "axis": {"orient": "bottom", "values": [5,6,7,8,9], "title": null, "labelPadding": 8}},
                  "y": {"field": "abundance", "type": "quantitative", "scale": {"domain": [-28.7, 420], "nice": false, "zero": false}, "axis": {"orient": "left", "values": [0,100,200,300,400], "format": "d", "title": "abundance", "titleX": -68, "labelPadding": 10}}}},
    {"data": {"name": "fit"}, "transform": [{"filter": "datum.sp === 'Aphididae' && datum.treat === 'Ctrl-Ctrl'"}], "mark": {"type": "line", "interpolate": "monotone", "color": "#0b5e0b", "strokeWidth": 1.8},
     "encoding": {"x": {"field": "month", "type": "quantitative", "scale": {"domain": [4.68, 9.23], "nice": false, "zero": false}, "axis": {"orient": "bottom", "values": [5,6,7,8,9], "title": null, "labelPadding": 8}},
                  "y": {"field": "fit", "type": "quantitative", "scale": {"domain": [-28.7, 420], "nice": false, "zero": false}, "axis": {"orient": "left", "values": [0,100,200,300,400], "format": "d", "title": "abundance", "titleX": -68, "labelPadding": 10}}}}]},
  {"width": 132.7, "height": 172, "layer": [
    {"data": {"name": "pts"}, "transform": [{"filter": "datum.sp === 'Aphididae' && datum.treat === 'El-bare'"}], "mark": {"type": "point", "shape": "circle", "filled": false, "size": 300, "color": "#0b5e0b", "strokeWidth": 1.25, "opacity": 0.75},
     "encoding": {"x": {"field": "month", "type": "quantitative", "scale": {"domain": [4.68, 9.23], "nice": false, "zero": false}, "axis": {"orient": "bottom", "values": [5,6,7,8,9], "labels": false, "title": "month", "titlePadding": 45}},
                  "y": {"field": "abundance", "type": "quantitative", "scale": {"domain": [-28.7, 420], "nice": false, "zero": false}, "axis": null}}},
    {"data": {"name": "fit"}, "transform": [{"filter": "datum.sp === 'Aphididae' && datum.treat === 'El-bare'"}], "mark": {"type": "line", "interpolate": "monotone", "color": "#0b5e0b", "strokeWidth": 1.8},
     "encoding": {"x": {"field": "month", "type": "quantitative", "scale": {"domain": [4.68, 9.23], "nice": false, "zero": false}, "axis": {"orient": "bottom", "values": [5,6,7,8,9], "labels": false, "title": "month", "titlePadding": 45}},
                  "y": {"field": "fit", "type": "quantitative", "scale": {"domain": [-28.7, 420], "nice": false, "zero": false}, "axis": null}}}]},
  {"width": 132.7, "height": 172, "layer": [
    {"data": {"name": "pts"}, "transform": [{"filter": "datum.sp === 'Aphididae' && datum.treat === 'El-planted'"}], "mark": {"type": "point", "shape": "circle", "filled": false, "size": 300, "color": "#0b5e0b", "strokeWidth": 1.25, "opacity": 0.75},
     "encoding": {"x": {"field": "month", "type": "quantitative", "scale": {"domain": [4.68, 9.23], "nice": false, "zero": false}, "axis": {"orient": "bottom", "values": [5,6,7,8,9], "title": null, "labelPadding": 8}},
                  "y": {"field": "abundance", "type": "quantitative", "scale": {"domain": [-28.7, 420], "nice": false, "zero": false}, "axis": {"orient": "right", "values": [0,100,200,300,400], "labels": false, "title": null}}}},
    {"data": {"name": "fit"}, "transform": [{"filter": "datum.sp === 'Aphididae' && datum.treat === 'El-planted'"}], "mark": {"type": "line", "interpolate": "monotone", "color": "#0b5e0b", "strokeWidth": 1.8},
     "encoding": {"x": {"field": "month", "type": "quantitative", "scale": {"domain": [4.68, 9.23], "nice": false, "zero": false}, "axis": {"orient": "bottom", "values": [5,6,7,8,9], "title": null, "labelPadding": 8}},
                  "y": {"field": "fit", "type": "quantitative", "scale": {"domain": [-28.7, 420], "nice": false, "zero": false}, "axis": {"orient": "right", "values": [0,100,200,300,400], "labels": false, "title": null}}}}]}
]},
{"title": {"text": "Aranaeae", "anchor": "middle", "offset": 25, "dx": 17}, "columns": 3, "spacing": 0, "bounds": "flush", "concat": [
  {"width": 135.6, "height": 26, "view": {"fill": "#FFE5CC", "stroke": "black"}, "data": {"name": "pts"}, "transform": [{"filter": "datum.sp === 'Aranaeae' && datum.treat === 'Ctrl-Ctrl'"}], "layer": [
    {"mark": {"type": "point", "opacity": 0}, "encoding": {"x": {"field": "month", "type": "quantitative", "scale": {"domain": [4.75, 9.3], "nice": false, "zero": false}, "axis": {"orient": "top", "values": [5,6,7,8,9], "title": null, "labelOpacity": 0, "labelPadding": 7}}}},
    {"transform": [{"aggregate": [{"op": "count", "as": "n"}], "groupby": ["treat"]}], "mark": {"type": "text", "fontSize": 21, "color": "black"}, "encoding": {"text": {"field": "treat"}}}]},
  {"width": 135.6, "height": 26, "view": {"fill": "#FFE5CC", "stroke": "black"}, "data": {"name": "pts"}, "transform": [{"filter": "datum.sp === 'Aranaeae' && datum.treat === 'El-bare'"}], "layer": [
    {"mark": {"type": "point", "opacity": 0}, "encoding": {"x": {"field": "month", "type": "quantitative", "scale": {"domain": [4.75, 9.3], "nice": false, "zero": false}, "axis": {"orient": "top", "values": [5,6,7,8,9], "title": null, "labelPadding": 7}}}},
    {"transform": [{"aggregate": [{"op": "count", "as": "n"}], "groupby": ["treat"]}], "mark": {"type": "text", "fontSize": 21, "color": "black"}, "encoding": {"text": {"field": "treat"}}}]},
  {"width": 135.6, "height": 26, "view": {"fill": "#FFE5CC", "stroke": "black"}, "data": {"name": "pts"}, "transform": [{"filter": "datum.sp === 'Aranaeae' && datum.treat === 'El-planted'"}], "layer": [
    {"mark": {"type": "point", "opacity": 0}, "encoding": {"x": {"field": "month", "type": "quantitative", "scale": {"domain": [4.75, 9.3], "nice": false, "zero": false}, "axis": {"orient": "top", "values": [5,6,7,8,9], "title": null, "labelOpacity": 0, "labelPadding": 7}}}},
    {"transform": [{"aggregate": [{"op": "count", "as": "n"}], "groupby": ["treat"]}], "mark": {"type": "text", "fontSize": 21, "color": "black"}, "encoding": {"text": {"field": "treat"}}}]},
  {"width": 135.6, "height": 172, "layer": [
    {"data": {"name": "pts"}, "transform": [{"filter": "datum.sp === 'Aranaeae' && datum.treat === 'Ctrl-Ctrl'"}], "mark": {"type": "point", "shape": "circle", "filled": false, "size": 300, "color": "#0b5e0b", "strokeWidth": 1.25, "opacity": 0.75},
     "encoding": {"x": {"field": "month", "type": "quantitative", "scale": {"domain": [4.75, 9.3], "nice": false, "zero": false}, "axis": {"orient": "bottom", "values": [5,6,7,8,9], "title": null, "labelPadding": 8}},
                  "y": {"field": "abundance", "type": "quantitative", "scale": {"domain": [-2.9, 42.9], "nice": false, "zero": false}, "axis": {"orient": "left", "values": [0,10,20,30,40], "format": "d", "title": "abundance", "titleX": -59, "labelPadding": 10}}}},
    {"data": {"name": "fit"}, "transform": [{"filter": "datum.sp === 'Aranaeae' && datum.treat === 'Ctrl-Ctrl'"}], "mark": {"type": "line", "interpolate": "monotone", "color": "#0b5e0b", "strokeWidth": 1.8},
     "encoding": {"x": {"field": "month", "type": "quantitative", "scale": {"domain": [4.75, 9.3], "nice": false, "zero": false}, "axis": {"orient": "bottom", "values": [5,6,7,8,9], "title": null, "labelPadding": 8}},
                  "y": {"field": "fit", "type": "quantitative", "scale": {"domain": [-2.9, 42.9], "nice": false, "zero": false}, "axis": {"orient": "left", "values": [0,10,20,30,40], "format": "d", "title": "abundance", "titleX": -59, "labelPadding": 10}}}}]},
  {"width": 135.6, "height": 172, "layer": [
    {"data": {"name": "pts"}, "transform": [{"filter": "datum.sp === 'Aranaeae' && datum.treat === 'El-bare'"}], "mark": {"type": "point", "shape": "circle", "filled": false, "size": 300, "color": "#0b5e0b", "strokeWidth": 1.25, "opacity": 0.75},
     "encoding": {"x": {"field": "month", "type": "quantitative", "scale": {"domain": [4.75, 9.3], "nice": false, "zero": false}, "axis": {"orient": "bottom", "values": [5,6,7,8,9], "labels": false, "title": "month", "titlePadding": 45}},
                  "y": {"field": "abundance", "type": "quantitative", "scale": {"domain": [-2.9, 42.9], "nice": false, "zero": false}, "axis": null}}},
    {"data": {"name": "fit"}, "transform": [{"filter": "datum.sp === 'Aranaeae' && datum.treat === 'El-bare'"}], "mark": {"type": "line", "interpolate": "monotone", "color": "#0b5e0b", "strokeWidth": 1.8},
     "encoding": {"x": {"field": "month", "type": "quantitative", "scale": {"domain": [4.75, 9.3], "nice": false, "zero": false}, "axis": {"orient": "bottom", "values": [5,6,7,8,9], "labels": false, "title": "month", "titlePadding": 45}},
                  "y": {"field": "fit", "type": "quantitative", "scale": {"domain": [-2.9, 42.9], "nice": false, "zero": false}, "axis": null}}}]},
  {"width": 135.6, "height": 172, "layer": [
    {"data": {"name": "pts"}, "transform": [{"filter": "datum.sp === 'Aranaeae' && datum.treat === 'El-planted'"}], "mark": {"type": "point", "shape": "circle", "filled": false, "size": 300, "color": "#0b5e0b", "strokeWidth": 1.25, "opacity": 0.75},
     "encoding": {"x": {"field": "month", "type": "quantitative", "scale": {"domain": [4.75, 9.3], "nice": false, "zero": false}, "axis": {"orient": "bottom", "values": [5,6,7,8,9], "title": null, "labelPadding": 8}},
                  "y": {"field": "abundance", "type": "quantitative", "scale": {"domain": [-2.9, 42.9], "nice": false, "zero": false}, "axis": {"orient": "right", "values": [0,10,20,30,40], "labels": false, "title": null}}}},
    {"data": {"name": "fit"}, "transform": [{"filter": "datum.sp === 'Aranaeae' && datum.treat === 'El-planted'"}], "mark": {"type": "line", "interpolate": "monotone", "color": "#0b5e0b", "strokeWidth": 1.8},
     "encoding": {"x": {"field": "month", "type": "quantitative", "scale": {"domain": [4.75, 9.3], "nice": false, "zero": false}, "axis": {"orient": "bottom", "values": [5,6,7,8,9], "title": null, "labelPadding": 8}},
                  "y": {"field": "fit", "type": "quantitative", "scale": {"domain": [-2.9, 42.9], "nice": false, "zero": false}, "axis": {"orient": "right", "values": [0,10,20,30,40], "labels": false, "title": null}}}}]}
]},
{"title": {"text": "Auchenorrhyncha", "anchor": "middle", "offset": 25, "dx": 17}, "columns": 3, "spacing": 0, "bounds": "flush", "concat": [
  {"width": 132.6, "height": 26, "view": {"fill": "#FFE5CC", "stroke": "black"}, "data": {"name": "pts"}, "transform": [{"filter": "datum.sp === 'Auchenorrhyncha' && datum.treat === 'Ctrl-Ctrl'"}], "layer": [
    {"mark": {"type": "point", "opacity": 0}, "encoding": {"x": {"field": "month", "type": "quantitative", "scale": {"domain": [4.68, 9.23], "nice": false, "zero": false}, "axis": {"orient": "top", "values": [5,6,7,8,9], "title": null, "labelOpacity": 0, "labelPadding": 7}}}},
    {"transform": [{"aggregate": [{"op": "count", "as": "n"}], "groupby": ["treat"]}], "mark": {"type": "text", "fontSize": 21, "color": "black"}, "encoding": {"text": {"field": "treat"}}}]},
  {"width": 132.6, "height": 26, "view": {"fill": "#FFE5CC", "stroke": "black"}, "data": {"name": "pts"}, "transform": [{"filter": "datum.sp === 'Auchenorrhyncha' && datum.treat === 'El-bare'"}], "layer": [
    {"mark": {"type": "point", "opacity": 0}, "encoding": {"x": {"field": "month", "type": "quantitative", "scale": {"domain": [4.68, 9.23], "nice": false, "zero": false}, "axis": {"orient": "top", "values": [5,6,7,8,9], "title": null, "labelPadding": 7}}}},
    {"transform": [{"aggregate": [{"op": "count", "as": "n"}], "groupby": ["treat"]}], "mark": {"type": "text", "fontSize": 21, "color": "black"}, "encoding": {"text": {"field": "treat"}}}]},
  {"width": 132.6, "height": 26, "view": {"fill": "#FFE5CC", "stroke": "black"}, "data": {"name": "pts"}, "transform": [{"filter": "datum.sp === 'Auchenorrhyncha' && datum.treat === 'El-planted'"}], "layer": [
    {"mark": {"type": "point", "opacity": 0}, "encoding": {"x": {"field": "month", "type": "quantitative", "scale": {"domain": [4.68, 9.23], "nice": false, "zero": false}, "axis": {"orient": "top", "values": [5,6,7,8,9], "title": null, "labelOpacity": 0, "labelPadding": 7}}}},
    {"transform": [{"aggregate": [{"op": "count", "as": "n"}], "groupby": ["treat"]}], "mark": {"type": "text", "fontSize": 21, "color": "black"}, "encoding": {"text": {"field": "treat"}}}]},
  {"width": 132.6, "height": 172, "layer": [
    {"data": {"name": "pts"}, "transform": [{"filter": "datum.sp === 'Auchenorrhyncha' && datum.treat === 'Ctrl-Ctrl'"}], "mark": {"type": "point", "shape": "circle", "filled": false, "size": 300, "color": "#0b5e0b", "strokeWidth": 1.25, "opacity": 0.75},
     "encoding": {"x": {"field": "month", "type": "quantitative", "scale": {"domain": [4.68, 9.23], "nice": false, "zero": false}, "axis": {"orient": "bottom", "values": [5,6,7,8,9], "title": null, "labelPadding": 8}},
                  "y": {"field": "abundance", "type": "quantitative", "scale": {"domain": [-7.5, 120.7], "nice": false, "zero": false}, "axis": {"orient": "left", "values": [0,20,40,60,80,100], "format": "d", "title": "abundance", "titleX": -68, "labelPadding": 10}}}},
    {"data": {"name": "fit"}, "transform": [{"filter": "datum.sp === 'Auchenorrhyncha' && datum.treat === 'Ctrl-Ctrl'"}], "mark": {"type": "line", "interpolate": "monotone", "color": "#0b5e0b", "strokeWidth": 1.8},
     "encoding": {"x": {"field": "month", "type": "quantitative", "scale": {"domain": [4.68, 9.23], "nice": false, "zero": false}, "axis": {"orient": "bottom", "values": [5,6,7,8,9], "title": null, "labelPadding": 8}},
                  "y": {"field": "fit", "type": "quantitative", "scale": {"domain": [-7.5, 120.7], "nice": false, "zero": false}, "axis": {"orient": "left", "values": [0,20,40,60,80,100], "format": "d", "title": "abundance", "titleX": -68, "labelPadding": 10}}}}]},
  {"width": 132.6, "height": 172, "layer": [
    {"data": {"name": "pts"}, "transform": [{"filter": "datum.sp === 'Auchenorrhyncha' && datum.treat === 'El-bare'"}], "mark": {"type": "point", "shape": "circle", "filled": false, "size": 300, "color": "#0b5e0b", "strokeWidth": 1.25, "opacity": 0.75},
     "encoding": {"x": {"field": "month", "type": "quantitative", "scale": {"domain": [4.68, 9.23], "nice": false, "zero": false}, "axis": {"orient": "bottom", "values": [5,6,7,8,9], "labels": false, "title": "month", "titlePadding": 45}},
                  "y": {"field": "abundance", "type": "quantitative", "scale": {"domain": [-7.5, 120.7], "nice": false, "zero": false}, "axis": null}}},
    {"data": {"name": "fit"}, "transform": [{"filter": "datum.sp === 'Auchenorrhyncha' && datum.treat === 'El-bare'"}], "mark": {"type": "line", "interpolate": "monotone", "color": "#0b5e0b", "strokeWidth": 1.8},
     "encoding": {"x": {"field": "month", "type": "quantitative", "scale": {"domain": [4.68, 9.23], "nice": false, "zero": false}, "axis": {"orient": "bottom", "values": [5,6,7,8,9], "labels": false, "title": "month", "titlePadding": 45}},
                  "y": {"field": "fit", "type": "quantitative", "scale": {"domain": [-7.5, 120.7], "nice": false, "zero": false}, "axis": null}}}]},
  {"width": 132.6, "height": 172, "layer": [
    {"data": {"name": "pts"}, "transform": [{"filter": "datum.sp === 'Auchenorrhyncha' && datum.treat === 'El-planted'"}], "mark": {"type": "point", "shape": "circle", "filled": false, "size": 300, "color": "#0b5e0b", "strokeWidth": 1.25, "opacity": 0.75},
     "encoding": {"x": {"field": "month", "type": "quantitative", "scale": {"domain": [4.68, 9.23], "nice": false, "zero": false}, "axis": {"orient": "bottom", "values": [5,6,7,8,9], "title": null, "labelPadding": 8}},
                  "y": {"field": "abundance", "type": "quantitative", "scale": {"domain": [-7.5, 120.7], "nice": false, "zero": false}, "axis": {"orient": "right", "values": [0,20,40,60,80,100], "labels": false, "title": null}}}},
    {"data": {"name": "fit"}, "transform": [{"filter": "datum.sp === 'Auchenorrhyncha' && datum.treat === 'El-planted'"}], "mark": {"type": "line", "interpolate": "monotone", "color": "#0b5e0b", "strokeWidth": 1.8},
     "encoding": {"x": {"field": "month", "type": "quantitative", "scale": {"domain": [4.68, 9.23], "nice": false, "zero": false}, "axis": {"orient": "bottom", "values": [5,6,7,8,9], "title": null, "labelPadding": 8}},
                  "y": {"field": "fit", "type": "quantitative", "scale": {"domain": [-7.5, 120.7], "nice": false, "zero": false}, "axis": {"orient": "right", "values": [0,20,40,60,80,100], "labels": false, "title": null}}}}]}
]},
{"title": {"text": "Brachycera", "anchor": "middle", "offset": 25, "dx": 17}, "columns": 3, "spacing": 0, "bounds": "flush", "concat": [
  {"width": 132, "height": 26, "view": {"fill": "#FFE5CC", "stroke": "black"}, "data": {"name": "pts"}, "transform": [{"filter": "datum.sp === 'Brachycera' && datum.treat === 'Ctrl-Ctrl'"}], "layer": [
    {"mark": {"type": "point", "opacity": 0}, "encoding": {"x": {"field": "month", "type": "quantitative", "scale": {"domain": [4.75, 9.26], "nice": false, "zero": false}, "axis": {"orient": "top", "values": [5,6,7,8,9], "title": null, "labelOpacity": 0, "labelPadding": 7}}}},
    {"transform": [{"aggregate": [{"op": "count", "as": "n"}], "groupby": ["treat"]}], "mark": {"type": "text", "fontSize": 21, "color": "black"}, "encoding": {"text": {"field": "treat"}}}]},
  {"width": 132, "height": 26, "view": {"fill": "#FFE5CC", "stroke": "black"}, "data": {"name": "pts"}, "transform": [{"filter": "datum.sp === 'Brachycera' && datum.treat === 'El-bare'"}], "layer": [
    {"mark": {"type": "point", "opacity": 0}, "encoding": {"x": {"field": "month", "type": "quantitative", "scale": {"domain": [4.75, 9.26], "nice": false, "zero": false}, "axis": {"orient": "top", "values": [5,6,7,8,9], "title": null, "labelPadding": 7}}}},
    {"transform": [{"aggregate": [{"op": "count", "as": "n"}], "groupby": ["treat"]}], "mark": {"type": "text", "fontSize": 21, "color": "black"}, "encoding": {"text": {"field": "treat"}}}]},
  {"width": 132, "height": 26, "view": {"fill": "#FFE5CC", "stroke": "black"}, "data": {"name": "pts"}, "transform": [{"filter": "datum.sp === 'Brachycera' && datum.treat === 'El-planted'"}], "layer": [
    {"mark": {"type": "point", "opacity": 0}, "encoding": {"x": {"field": "month", "type": "quantitative", "scale": {"domain": [4.75, 9.26], "nice": false, "zero": false}, "axis": {"orient": "top", "values": [5,6,7,8,9], "title": null, "labelOpacity": 0, "labelPadding": 7}}}},
    {"transform": [{"aggregate": [{"op": "count", "as": "n"}], "groupby": ["treat"]}], "mark": {"type": "text", "fontSize": 21, "color": "black"}, "encoding": {"text": {"field": "treat"}}}]},
  {"width": 132, "height": 172, "layer": [
    {"data": {"name": "pts"}, "transform": [{"filter": "datum.sp === 'Brachycera' && datum.treat === 'Ctrl-Ctrl'"}], "mark": {"type": "point", "shape": "circle", "filled": false, "size": 300, "color": "#0b5e0b", "strokeWidth": 1.25, "opacity": 0.75},
     "encoding": {"x": {"field": "month", "type": "quantitative", "scale": {"domain": [4.75, 9.26], "nice": false, "zero": false}, "axis": {"orient": "bottom", "values": [5,6,7,8,9], "title": null, "labelPadding": 8}},
                  "y": {"field": "abundance", "type": "quantitative", "scale": {"domain": [-48, 778], "nice": false, "zero": false}, "axis": {"orient": "left", "values": [0,200,400,600], "format": "d", "title": "abundance", "titleX": -70, "labelPadding": 10}}}},
    {"data": {"name": "fit"}, "transform": [{"filter": "datum.sp === 'Brachycera' && datum.treat === 'Ctrl-Ctrl'"}], "mark": {"type": "line", "interpolate": "monotone", "color": "#0b5e0b", "strokeWidth": 1.8},
     "encoding": {"x": {"field": "month", "type": "quantitative", "scale": {"domain": [4.75, 9.26], "nice": false, "zero": false}, "axis": {"orient": "bottom", "values": [5,6,7,8,9], "title": null, "labelPadding": 8}},
                  "y": {"field": "fit", "type": "quantitative", "scale": {"domain": [-48, 778], "nice": false, "zero": false}, "axis": {"orient": "left", "values": [0,200,400,600], "format": "d", "title": "abundance", "titleX": -70, "labelPadding": 10}}}}]},
  {"width": 132, "height": 172, "layer": [
    {"data": {"name": "pts"}, "transform": [{"filter": "datum.sp === 'Brachycera' && datum.treat === 'El-bare'"}], "mark": {"type": "point", "shape": "circle", "filled": false, "size": 300, "color": "#0b5e0b", "strokeWidth": 1.25, "opacity": 0.75},
     "encoding": {"x": {"field": "month", "type": "quantitative", "scale": {"domain": [4.75, 9.26], "nice": false, "zero": false}, "axis": {"orient": "bottom", "values": [5,6,7,8,9], "labels": false, "title": "month", "titlePadding": 45}},
                  "y": {"field": "abundance", "type": "quantitative", "scale": {"domain": [-48, 778], "nice": false, "zero": false}, "axis": null}}},
    {"data": {"name": "fit"}, "transform": [{"filter": "datum.sp === 'Brachycera' && datum.treat === 'El-bare'"}], "mark": {"type": "line", "interpolate": "monotone", "color": "#0b5e0b", "strokeWidth": 1.8},
     "encoding": {"x": {"field": "month", "type": "quantitative", "scale": {"domain": [4.75, 9.26], "nice": false, "zero": false}, "axis": {"orient": "bottom", "values": [5,6,7,8,9], "labels": false, "title": "month", "titlePadding": 45}},
                  "y": {"field": "fit", "type": "quantitative", "scale": {"domain": [-48, 778], "nice": false, "zero": false}, "axis": null}}}]},
  {"width": 132, "height": 172, "layer": [
    {"data": {"name": "pts"}, "transform": [{"filter": "datum.sp === 'Brachycera' && datum.treat === 'El-planted'"}], "mark": {"type": "point", "shape": "circle", "filled": false, "size": 300, "color": "#0b5e0b", "strokeWidth": 1.25, "opacity": 0.75},
     "encoding": {"x": {"field": "month", "type": "quantitative", "scale": {"domain": [4.75, 9.26], "nice": false, "zero": false}, "axis": {"orient": "bottom", "values": [5,6,7,8,9], "title": null, "labelPadding": 8}},
                  "y": {"field": "abundance", "type": "quantitative", "scale": {"domain": [-48, 778], "nice": false, "zero": false}, "axis": {"orient": "right", "values": [0,200,400,600], "labels": false, "title": null}}}},
    {"data": {"name": "fit"}, "transform": [{"filter": "datum.sp === 'Brachycera' && datum.treat === 'El-planted'"}], "mark": {"type": "line", "interpolate": "monotone", "color": "#0b5e0b", "strokeWidth": 1.8},
     "encoding": {"x": {"field": "month", "type": "quantitative", "scale": {"domain": [4.75, 9.26], "nice": false, "zero": false}, "axis": {"orient": "bottom", "values": [5,6,7,8,9], "title": null, "labelPadding": 8}},
                  "y": {"field": "fit", "type": "quantitative", "scale": {"domain": [-48, 778], "nice": false, "zero": false}, "axis": {"orient": "right", "values": [0,200,400,600], "labels": false, "title": null}}}}]}
]},
{"title": {"text": "Coleoptera", "anchor": "middle", "offset": 25, "dx": 17}, "columns": 3, "spacing": 0, "bounds": "flush", "concat": [
  {"width": 132.6, "height": 26, "view": {"fill": "#FFE5CC", "stroke": "black"}, "data": {"name": "pts"}, "transform": [{"filter": "datum.sp === 'Coleoptera' && datum.treat === 'Ctrl-Ctrl'"}], "layer": [
    {"mark": {"type": "point", "opacity": 0}, "encoding": {"x": {"field": "month", "type": "quantitative", "scale": {"domain": [4.68, 9.23], "nice": false, "zero": false}, "axis": {"orient": "top", "values": [5,6,7,8,9], "title": null, "labelOpacity": 0, "labelPadding": 7}}}},
    {"transform": [{"aggregate": [{"op": "count", "as": "n"}], "groupby": ["treat"]}], "mark": {"type": "text", "fontSize": 21, "color": "black"}, "encoding": {"text": {"field": "treat"}}}]},
  {"width": 132.6, "height": 26, "view": {"fill": "#FFE5CC", "stroke": "black"}, "data": {"name": "pts"}, "transform": [{"filter": "datum.sp === 'Coleoptera' && datum.treat === 'El-bare'"}], "layer": [
    {"mark": {"type": "point", "opacity": 0}, "encoding": {"x": {"field": "month", "type": "quantitative", "scale": {"domain": [4.68, 9.23], "nice": false, "zero": false}, "axis": {"orient": "top", "values": [5,6,7,8,9], "title": null, "labelPadding": 7}}}},
    {"transform": [{"aggregate": [{"op": "count", "as": "n"}], "groupby": ["treat"]}], "mark": {"type": "text", "fontSize": 21, "color": "black"}, "encoding": {"text": {"field": "treat"}}}]},
  {"width": 132.6, "height": 26, "view": {"fill": "#FFE5CC", "stroke": "black"}, "data": {"name": "pts"}, "transform": [{"filter": "datum.sp === 'Coleoptera' && datum.treat === 'El-planted'"}], "layer": [
    {"mark": {"type": "point", "opacity": 0}, "encoding": {"x": {"field": "month", "type": "quantitative", "scale": {"domain": [4.68, 9.23], "nice": false, "zero": false}, "axis": {"orient": "top", "values": [5,6,7,8,9], "title": null, "labelOpacity": 0, "labelPadding": 7}}}},
    {"transform": [{"aggregate": [{"op": "count", "as": "n"}], "groupby": ["treat"]}], "mark": {"type": "text", "fontSize": 21, "color": "black"}, "encoding": {"text": {"field": "treat"}}}]},
  {"width": 132.6, "height": 172, "layer": [
    {"data": {"name": "pts"}, "transform": [{"filter": "datum.sp === 'Coleoptera' && datum.treat === 'Ctrl-Ctrl'"}], "mark": {"type": "point", "shape": "circle", "filled": false, "size": 300, "color": "#0b5e0b", "strokeWidth": 1.25, "opacity": 0.75},
     "encoding": {"x": {"field": "month", "type": "quantitative", "scale": {"domain": [4.68, 9.23], "nice": false, "zero": false}, "axis": {"orient": "bottom", "values": [5,6,7,8,9], "title": null, "labelPadding": 8}},
                  "y": {"field": "abundance", "type": "quantitative", "scale": {"domain": [-10, 145], "nice": false, "zero": false}, "axis": {"orient": "left", "values": [0,50,100], "format": "d", "title": "abundance", "titleX": -68, "labelPadding": 10}}}},
    {"data": {"name": "fit"}, "transform": [{"filter": "datum.sp === 'Coleoptera' && datum.treat === 'Ctrl-Ctrl'"}], "mark": {"type": "line", "interpolate": "monotone", "color": "#0b5e0b", "strokeWidth": 1.8},
     "encoding": {"x": {"field": "month", "type": "quantitative", "scale": {"domain": [4.68, 9.23], "nice": false, "zero": false}, "axis": {"orient": "bottom", "values": [5,6,7,8,9], "title": null, "labelPadding": 8}},
                  "y": {"field": "fit", "type": "quantitative", "scale": {"domain": [-10, 145], "nice": false, "zero": false}, "axis": {"orient": "left", "values": [0,50,100], "format": "d", "title": "abundance", "titleX": -68, "labelPadding": 10}}}}]},
  {"width": 132.6, "height": 172, "layer": [
    {"data": {"name": "pts"}, "transform": [{"filter": "datum.sp === 'Coleoptera' && datum.treat === 'El-bare'"}], "mark": {"type": "point", "shape": "circle", "filled": false, "size": 300, "color": "#0b5e0b", "strokeWidth": 1.25, "opacity": 0.75},
     "encoding": {"x": {"field": "month", "type": "quantitative", "scale": {"domain": [4.68, 9.23], "nice": false, "zero": false}, "axis": {"orient": "bottom", "values": [5,6,7,8,9], "labels": false, "title": "month", "titlePadding": 45}},
                  "y": {"field": "abundance", "type": "quantitative", "scale": {"domain": [-10, 145], "nice": false, "zero": false}, "axis": null}}},
    {"data": {"name": "fit"}, "transform": [{"filter": "datum.sp === 'Coleoptera' && datum.treat === 'El-bare'"}], "mark": {"type": "line", "interpolate": "monotone", "color": "#0b5e0b", "strokeWidth": 1.8},
     "encoding": {"x": {"field": "month", "type": "quantitative", "scale": {"domain": [4.68, 9.23], "nice": false, "zero": false}, "axis": {"orient": "bottom", "values": [5,6,7,8,9], "labels": false, "title": "month", "titlePadding": 45}},
                  "y": {"field": "fit", "type": "quantitative", "scale": {"domain": [-10, 145], "nice": false, "zero": false}, "axis": null}}}]},
  {"width": 132.6, "height": 172, "layer": [
    {"data": {"name": "pts"}, "transform": [{"filter": "datum.sp === 'Coleoptera' && datum.treat === 'El-planted'"}], "mark": {"type": "point", "shape": "circle", "filled": false, "size": 300, "color": "#0b5e0b", "strokeWidth": 1.25, "opacity": 0.75},
     "encoding": {"x": {"field": "month", "type": "quantitative", "scale": {"domain": [4.68, 9.23], "nice": false, "zero": false}, "axis": {"orient": "bottom", "values": [5,6,7,8,9], "title": null, "labelPadding": 8}},
                  "y": {"field": "abundance", "type": "quantitative", "scale": {"domain": [-10, 145], "nice": false, "zero": false}, "axis": {"orient": "right", "values": [0,50,100], "labels": false, "title": null}}}},
    {"data": {"name": "fit"}, "transform": [{"filter": "datum.sp === 'Coleoptera' && datum.treat === 'El-planted'"}], "mark": {"type": "line", "interpolate": "monotone", "color": "#0b5e0b", "strokeWidth": 1.8},
     "encoding": {"x": {"field": "month", "type": "quantitative", "scale": {"domain": [4.68, 9.23], "nice": false, "zero": false}, "axis": {"orient": "bottom", "values": [5,6,7,8,9], "title": null, "labelPadding": 8}},
                  "y": {"field": "fit", "type": "quantitative", "scale": {"domain": [-10, 145], "nice": false, "zero": false}, "axis": {"orient": "right", "values": [0,50,100], "labels": false, "title": null}}}}]}
]},
{"title": {"text": "Hymenoptera", "anchor": "middle", "offset": 25, "dx": 17}, "columns": 3, "spacing": 0, "bounds": "flush", "concat": [
  {"width": 129.2, "height": 26, "view": {"fill": "#FFE5CC", "stroke": "black"}, "data": {"name": "pts"}, "transform": [{"filter": "datum.sp === 'Hymenoptera' && datum.treat === 'Ctrl-Ctrl'"}], "layer": [
    {"mark": {"type": "point", "opacity": 0}, "encoding": {"x": {"field": "month", "type": "quantitative", "scale": {"domain": [4.67, 9.31], "nice": false, "zero": false}, "axis": {"orient": "top", "values": [5,6,7,8,9], "title": null, "labelOpacity": 0, "labelPadding": 7}}}},
    {"transform": [{"aggregate": [{"op": "count", "as": "n"}], "groupby": ["treat"]}], "mark": {"type": "text", "fontSize": 21, "color": "black"}, "encoding": {"text": {"field": "treat"}}}]},
  {"width": 129.2, "height": 26, "view": {"fill": "#FFE5CC", "stroke": "black"}, "data": {"name": "pts"}, "transform": [{"filter": "datum.sp === 'Hymenoptera' && datum.treat === 'El-bare'"}], "layer": [
    {"mark": {"type": "point", "opacity": 0}, "encoding": {"x": {"field": "month", "type": "quantitative", "scale": {"domain": [4.67, 9.31], "nice": false, "zero": false}, "axis": {"orient": "top", "values": [5,6,7,8,9], "title": null, "labelPadding": 7}}}},
    {"transform": [{"aggregate": [{"op": "count", "as": "n"}], "groupby": ["treat"]}], "mark": {"type": "text", "fontSize": 21, "color": "black"}, "encoding": {"text": {"field": "treat"}}}]},
  {"width": 129.2, "height": 26, "view": {"fill": "#FFE5CC", "stroke": "black"}, "data": {"name": "pts"}, "transform": [{"filter": "datum.sp === 'Hymenoptera' && datum.treat === 'El-planted'"}], "layer": [
    {"mark": {"type": "point", "opacity": 0}, "encoding": {"x": {"field": "month", "type": "quantitative", "scale": {"domain": [4.67, 9.31], "nice": false, "zero": false}, "axis": {"orient": "top", "values": [5,6,7,8,9], "title": null, "labelOpacity": 0, "labelPadding": 7}}}},
    {"transform": [{"aggregate": [{"op": "count", "as": "n"}], "groupby": ["treat"]}], "mark": {"type": "text", "fontSize": 21, "color": "black"}, "encoding": {"text": {"field": "treat"}}}]},
  {"width": 129.2, "height": 172, "layer": [
    {"data": {"name": "pts"}, "transform": [{"filter": "datum.sp === 'Hymenoptera' && datum.treat === 'Ctrl-Ctrl'"}], "mark": {"type": "point", "shape": "circle", "filled": false, "size": 300, "color": "#0b5e0b", "strokeWidth": 1.25, "opacity": 0.75},
     "encoding": {"x": {"field": "month", "type": "quantitative", "scale": {"domain": [4.67, 9.31], "nice": false, "zero": false}, "axis": {"orient": "bottom", "values": [5,6,7,8,9], "title": null, "labelPadding": 8}},
                  "y": {"field": "abundance", "type": "quantitative", "scale": {"domain": [-83, 1257], "nice": false, "zero": false}, "axis": {"orient": "left", "values": [0,200,400,600,800,1000,1200], "format": "d", "title": "abundance", "titleX": -78, "labelPadding": 10}}}},
    {"data": {"name": "fit"}, "transform": [{"filter": "datum.sp === 'Hymenoptera' && datum.treat === 'Ctrl-Ctrl'"}], "mark": {"type": "line", "interpolate": "monotone", "color": "#0b5e0b", "strokeWidth": 1.8},
     "encoding": {"x": {"field": "month", "type": "quantitative", "scale": {"domain": [4.67, 9.31], "nice": false, "zero": false}, "axis": {"orient": "bottom", "values": [5,6,7,8,9], "title": null, "labelPadding": 8}},
                  "y": {"field": "fit", "type": "quantitative", "scale": {"domain": [-83, 1257], "nice": false, "zero": false}, "axis": {"orient": "left", "values": [0,200,400,600,800,1000,1200], "format": "d", "title": "abundance", "titleX": -78, "labelPadding": 10}}}}]},
  {"width": 129.2, "height": 172, "layer": [
    {"data": {"name": "pts"}, "transform": [{"filter": "datum.sp === 'Hymenoptera' && datum.treat === 'El-bare'"}], "mark": {"type": "point", "shape": "circle", "filled": false, "size": 300, "color": "#0b5e0b", "strokeWidth": 1.25, "opacity": 0.75},
     "encoding": {"x": {"field": "month", "type": "quantitative", "scale": {"domain": [4.67, 9.31], "nice": false, "zero": false}, "axis": {"orient": "bottom", "values": [5,6,7,8,9], "labels": false, "title": "month", "titlePadding": 45}},
                  "y": {"field": "abundance", "type": "quantitative", "scale": {"domain": [-83, 1257], "nice": false, "zero": false}, "axis": null}}},
    {"data": {"name": "fit"}, "transform": [{"filter": "datum.sp === 'Hymenoptera' && datum.treat === 'El-bare'"}], "mark": {"type": "line", "interpolate": "monotone", "color": "#0b5e0b", "strokeWidth": 1.8},
     "encoding": {"x": {"field": "month", "type": "quantitative", "scale": {"domain": [4.67, 9.31], "nice": false, "zero": false}, "axis": {"orient": "bottom", "values": [5,6,7,8,9], "labels": false, "title": "month", "titlePadding": 45}},
                  "y": {"field": "fit", "type": "quantitative", "scale": {"domain": [-83, 1257], "nice": false, "zero": false}, "axis": null}}}]},
  {"width": 129.2, "height": 172, "layer": [
    {"data": {"name": "pts"}, "transform": [{"filter": "datum.sp === 'Hymenoptera' && datum.treat === 'El-planted'"}], "mark": {"type": "point", "shape": "circle", "filled": false, "size": 300, "color": "#0b5e0b", "strokeWidth": 1.25, "opacity": 0.75},
     "encoding": {"x": {"field": "month", "type": "quantitative", "scale": {"domain": [4.67, 9.31], "nice": false, "zero": false}, "axis": {"orient": "bottom", "values": [5,6,7,8,9], "title": null, "labelPadding": 8}},
                  "y": {"field": "abundance", "type": "quantitative", "scale": {"domain": [-83, 1257], "nice": false, "zero": false}, "axis": {"orient": "right", "values": [0,200,400,600,800,1000,1200], "labels": false, "title": null}}}},
    {"data": {"name": "fit"}, "transform": [{"filter": "datum.sp === 'Hymenoptera' && datum.treat === 'El-planted'"}], "mark": {"type": "line", "interpolate": "monotone", "color": "#0b5e0b", "strokeWidth": 1.8},
     "encoding": {"x": {"field": "month", "type": "quantitative", "scale": {"domain": [4.67, 9.31], "nice": false, "zero": false}, "axis": {"orient": "bottom", "values": [5,6,7,8,9], "title": null, "labelPadding": 8}},
                  "y": {"field": "fit", "type": "quantitative", "scale": {"domain": [-83, 1257], "nice": false, "zero": false}, "axis": {"orient": "right", "values": [0,200,400,600,800,1000,1200], "labels": false, "title": null}}}}]}
]},
{"title": {"text": "Nematocera", "anchor": "middle", "offset": 25, "dx": 17}, "columns": 3, "spacing": 0, "bounds": "flush", "concat": [
  {"width": 132.7, "height": 26, "view": {"fill": "#FFE5CC", "stroke": "black"}, "data": {"name": "pts"}, "transform": [{"filter": "datum.sp === 'Nematocera' && datum.treat === 'Ctrl-Ctrl'"}], "layer": [
    {"mark": {"type": "point", "opacity": 0}, "encoding": {"x": {"field": "month", "type": "quantitative", "scale": {"domain": [4.68, 9.25], "nice": false, "zero": false}, "axis": {"orient": "top", "values": [5,6,7,8,9], "title": null, "labelOpacity": 0, "labelPadding": 7}}}},
    {"transform": [{"aggregate": [{"op": "count", "as": "n"}], "groupby": ["treat"]}], "mark": {"type": "text", "fontSize": 21, "color": "black"}, "encoding": {"text": {"field": "treat"}}}]},
  {"width": 132.7, "height": 26, "view": {"fill": "#FFE5CC", "stroke": "black"}, "data": {"name": "pts"}, "transform": [{"filter": "datum.sp === 'Nematocera' && datum.treat === 'El-bare'"}], "layer": [
    {"mark": {"type": "point", "opacity": 0}, "encoding": {"x": {"field": "month", "type": "quantitative", "scale": {"domain": [4.68, 9.25], "nice": false, "zero": false}, "axis": {"orient": "top", "values": [5,6,7,8,9], "title": null, "labelPadding": 7}}}},
    {"transform": [{"aggregate": [{"op": "count", "as": "n"}], "groupby": ["treat"]}], "mark": {"type": "text", "fontSize": 21, "color": "black"}, "encoding": {"text": {"field": "treat"}}}]},
  {"width": 132.7, "height": 26, "view": {"fill": "#FFE5CC", "stroke": "black"}, "data": {"name": "pts"}, "transform": [{"filter": "datum.sp === 'Nematocera' && datum.treat === 'El-planted'"}], "layer": [
    {"mark": {"type": "point", "opacity": 0}, "encoding": {"x": {"field": "month", "type": "quantitative", "scale": {"domain": [4.68, 9.25], "nice": false, "zero": false}, "axis": {"orient": "top", "values": [5,6,7,8,9], "title": null, "labelOpacity": 0, "labelPadding": 7}}}},
    {"transform": [{"aggregate": [{"op": "count", "as": "n"}], "groupby": ["treat"]}], "mark": {"type": "text", "fontSize": 21, "color": "black"}, "encoding": {"text": {"field": "treat"}}}]},
  {"width": 132.7, "height": 172, "layer": [
    {"data": {"name": "pts"}, "transform": [{"filter": "datum.sp === 'Nematocera' && datum.treat === 'Ctrl-Ctrl'"}], "mark": {"type": "point", "shape": "circle", "filled": false, "size": 300, "color": "#0b5e0b", "strokeWidth": 1.25, "opacity": 0.75},
     "encoding": {"x": {"field": "month", "type": "quantitative", "scale": {"domain": [4.68, 9.25], "nice": false, "zero": false}, "axis": {"orient": "bottom", "values": [5,6,7,8,9], "title": null, "labelPadding": 8}},
                  "y": {"field": "abundance", "type": "quantitative", "scale": {"domain": [-121, 1812], "nice": false, "zero": false}, "axis": {"orient": "left", "values": [0,500,1000,1500], "format": "d", "title": "abundance", "titleX": -68, "labelPadding": 10}}}},
    {"data": {"name": "fit"}, "transform": [{"filter": "datum.sp === 'Nematocera' && datum.treat === 'Ctrl-Ctrl'"}], "mark": {"type": "line", "interpolate": "monotone", "color": "#0b5e0b", "strokeWidth": 1.8},
     "encoding": {"x": {"field": "month", "type": "quantitative", "scale": {"domain": [4.68, 9.25], "nice": false, "zero": false}, "axis": {"orient": "bottom", "values": [5,6,7,8,9], "title": null, "labelPadding": 8}},
                  "y": {"field": "fit", "type": "quantitative", "scale": {"domain": [-121, 1812], "nice": false, "zero": false}, "axis": {"orient": "left", "values": [0,500,1000,1500], "format": "d", "title": "abundance", "titleX": -68, "labelPadding": 10}}}}]},
  {"width": 132.7, "height": 172, "layer": [
    {"data": {"name": "pts"}, "transform": [{"filter": "datum.sp === 'Nematocera' && datum.treat === 'El-bare'"}], "mark": {"type": "point", "shape": "circle", "filled": false, "size": 300, "color": "#0b5e0b", "strokeWidth": 1.25, "opacity": 0.75},
     "encoding": {"x": {"field": "month", "type": "quantitative", "scale": {"domain": [4.68, 9.25], "nice": false, "zero": false}, "axis": {"orient": "bottom", "values": [5,6,7,8,9], "labels": false, "title": "month", "titlePadding": 45}},
                  "y": {"field": "abundance", "type": "quantitative", "scale": {"domain": [-121, 1812], "nice": false, "zero": false}, "axis": null}}},
    {"data": {"name": "fit"}, "transform": [{"filter": "datum.sp === 'Nematocera' && datum.treat === 'El-bare'"}], "mark": {"type": "line", "interpolate": "monotone", "color": "#0b5e0b", "strokeWidth": 1.8},
     "encoding": {"x": {"field": "month", "type": "quantitative", "scale": {"domain": [4.68, 9.25], "nice": false, "zero": false}, "axis": {"orient": "bottom", "values": [5,6,7,8,9], "labels": false, "title": "month", "titlePadding": 45}},
                  "y": {"field": "fit", "type": "quantitative", "scale": {"domain": [-121, 1812], "nice": false, "zero": false}, "axis": null}}}]},
  {"width": 132.7, "height": 172, "layer": [
    {"data": {"name": "pts"}, "transform": [{"filter": "datum.sp === 'Nematocera' && datum.treat === 'El-planted'"}], "mark": {"type": "point", "shape": "circle", "filled": false, "size": 300, "color": "#0b5e0b", "strokeWidth": 1.25, "opacity": 0.75},
     "encoding": {"x": {"field": "month", "type": "quantitative", "scale": {"domain": [4.68, 9.25], "nice": false, "zero": false}, "axis": {"orient": "bottom", "values": [5,6,7,8,9], "title": null, "labelPadding": 8}},
                  "y": {"field": "abundance", "type": "quantitative", "scale": {"domain": [-121, 1812], "nice": false, "zero": false}, "axis": {"orient": "right", "values": [0,500,1000,1500], "labels": false, "title": null}}}},
    {"data": {"name": "fit"}, "transform": [{"filter": "datum.sp === 'Nematocera' && datum.treat === 'El-planted'"}], "mark": {"type": "line", "interpolate": "monotone", "color": "#0b5e0b", "strokeWidth": 1.8},
     "encoding": {"x": {"field": "month", "type": "quantitative", "scale": {"domain": [4.68, 9.25], "nice": false, "zero": false}, "axis": {"orient": "bottom", "values": [5,6,7,8,9], "title": null, "labelPadding": 8}},
                  "y": {"field": "fit", "type": "quantitative", "scale": {"domain": [-121, 1812], "nice": false, "zero": false}, "axis": {"orient": "right", "values": [0,500,1000,1500], "labels": false, "title": null}}}}]}
]},
{"title": {"text": "Thysenoptera", "anchor": "middle", "offset": 25, "dx": 17}, "columns": 3, "spacing": 0, "bounds": "flush", "concat": [
  {"width": 135.3, "height": 26, "view": {"fill": "#FFE5CC", "stroke": "black"}, "data": {"name": "pts"}, "transform": [{"filter": "datum.sp === 'Thysenoptera' && datum.treat === 'Ctrl-Ctrl'"}], "layer": [
    {"mark": {"type": "point", "opacity": 0}, "encoding": {"x": {"field": "month", "type": "quantitative", "scale": {"domain": [4.75, 9.3], "nice": false, "zero": false}, "axis": {"orient": "top", "values": [5,6,7,8,9], "title": null, "labelOpacity": 0, "labelPadding": 7}}}},
    {"transform": [{"aggregate": [{"op": "count", "as": "n"}], "groupby": ["treat"]}], "mark": {"type": "text", "fontSize": 21, "color": "black"}, "encoding": {"text": {"field": "treat"}}}]},
  {"width": 135.3, "height": 26, "view": {"fill": "#FFE5CC", "stroke": "black"}, "data": {"name": "pts"}, "transform": [{"filter": "datum.sp === 'Thysenoptera' && datum.treat === 'El-bare'"}], "layer": [
    {"mark": {"type": "point", "opacity": 0}, "encoding": {"x": {"field": "month", "type": "quantitative", "scale": {"domain": [4.75, 9.3], "nice": false, "zero": false}, "axis": {"orient": "top", "values": [5,6,7,8,9], "title": null, "labelPadding": 7}}}},
    {"transform": [{"aggregate": [{"op": "count", "as": "n"}], "groupby": ["treat"]}], "mark": {"type": "text", "fontSize": 21, "color": "black"}, "encoding": {"text": {"field": "treat"}}}]},
  {"width": 135.3, "height": 26, "view": {"fill": "#FFE5CC", "stroke": "black"}, "data": {"name": "pts"}, "transform": [{"filter": "datum.sp === 'Thysenoptera' && datum.treat === 'El-planted'"}], "layer": [
    {"mark": {"type": "point", "opacity": 0}, "encoding": {"x": {"field": "month", "type": "quantitative", "scale": {"domain": [4.75, 9.3], "nice": false, "zero": false}, "axis": {"orient": "top", "values": [5,6,7,8,9], "title": null, "labelOpacity": 0, "labelPadding": 7}}}},
    {"transform": [{"aggregate": [{"op": "count", "as": "n"}], "groupby": ["treat"]}], "mark": {"type": "text", "fontSize": 21, "color": "black"}, "encoding": {"text": {"field": "treat"}}}]},
  {"width": 135.3, "height": 172, "layer": [
    {"data": {"name": "pts"}, "transform": [{"filter": "datum.sp === 'Thysenoptera' && datum.treat === 'Ctrl-Ctrl'"}], "mark": {"type": "point", "shape": "circle", "filled": false, "size": 300, "color": "#0b5e0b", "strokeWidth": 1.25, "opacity": 0.75},
     "encoding": {"x": {"field": "month", "type": "quantitative", "scale": {"domain": [4.75, 9.3], "nice": false, "zero": false}, "axis": {"orient": "bottom", "values": [5,6,7,8,9], "title": null, "labelPadding": 8}},
                  "y": {"field": "abundance", "type": "quantitative", "scale": {"domain": [-6.1, 91.8], "nice": false, "zero": false}, "axis": {"orient": "left", "values": [0,20,40,60,80], "format": "d", "title": "abundance", "titleX": -60, "labelPadding": 10}}}},
    {"data": {"name": "fit"}, "transform": [{"filter": "datum.sp === 'Thysenoptera' && datum.treat === 'Ctrl-Ctrl'"}], "mark": {"type": "line", "interpolate": "monotone", "color": "#0b5e0b", "strokeWidth": 1.8},
     "encoding": {"x": {"field": "month", "type": "quantitative", "scale": {"domain": [4.75, 9.3], "nice": false, "zero": false}, "axis": {"orient": "bottom", "values": [5,6,7,8,9], "title": null, "labelPadding": 8}},
                  "y": {"field": "fit", "type": "quantitative", "scale": {"domain": [-6.1, 91.8], "nice": false, "zero": false}, "axis": {"orient": "left", "values": [0,20,40,60,80], "format": "d", "title": "abundance", "titleX": -60, "labelPadding": 10}}}}]},
  {"width": 135.3, "height": 172, "layer": [
    {"data": {"name": "pts"}, "transform": [{"filter": "datum.sp === 'Thysenoptera' && datum.treat === 'El-bare'"}], "mark": {"type": "point", "shape": "circle", "filled": false, "size": 300, "color": "#0b5e0b", "strokeWidth": 1.25, "opacity": 0.75},
     "encoding": {"x": {"field": "month", "type": "quantitative", "scale": {"domain": [4.75, 9.3], "nice": false, "zero": false}, "axis": {"orient": "bottom", "values": [5,6,7,8,9], "labels": false, "title": "month", "titlePadding": 45}},
                  "y": {"field": "abundance", "type": "quantitative", "scale": {"domain": [-6.1, 91.8], "nice": false, "zero": false}, "axis": null}}},
    {"data": {"name": "fit"}, "transform": [{"filter": "datum.sp === 'Thysenoptera' && datum.treat === 'El-bare'"}], "mark": {"type": "line", "interpolate": "monotone", "color": "#0b5e0b", "strokeWidth": 1.8},
     "encoding": {"x": {"field": "month", "type": "quantitative", "scale": {"domain": [4.75, 9.3], "nice": false, "zero": false}, "axis": {"orient": "bottom", "values": [5,6,7,8,9], "labels": false, "title": "month", "titlePadding": 45}},
                  "y": {"field": "fit", "type": "quantitative", "scale": {"domain": [-6.1, 91.8], "nice": false, "zero": false}, "axis": null}}}]},
  {"width": 135.3, "height": 172, "layer": [
    {"data": {"name": "pts"}, "transform": [{"filter": "datum.sp === 'Thysenoptera' && datum.treat === 'El-planted'"}], "mark": {"type": "point", "shape": "circle", "filled": false, "size": 300, "color": "#0b5e0b", "strokeWidth": 1.25, "opacity": 0.75},
     "encoding": {"x": {"field": "month", "type": "quantitative", "scale": {"domain": [4.75, 9.3], "nice": false, "zero": false}, "axis": {"orient": "bottom", "values": [5,6,7,8,9], "title": null, "labelPadding": 8}},
                  "y": {"field": "abundance", "type": "quantitative", "scale": {"domain": [-6.1, 91.8], "nice": false, "zero": false}, "axis": {"orient": "right", "values": [0,20,40,60,80], "labels": false, "title": null}}}},
    {"data": {"name": "fit"}, "transform": [{"filter": "datum.sp === 'Thysenoptera' && datum.treat === 'El-planted'"}], "mark": {"type": "line", "interpolate": "monotone", "color": "#0b5e0b", "strokeWidth": 1.8},
     "encoding": {"x": {"field": "month", "type": "quantitative", "scale": {"domain": [4.75, 9.3], "nice": false, "zero": false}, "axis": {"orient": "bottom", "values": [5,6,7,8,9], "title": null, "labelPadding": 8}},
                  "y": {"field": "fit", "type": "quantitative", "scale": {"domain": [-6.1, 91.8], "nice": false, "zero": false}, "axis": {"orient": "right", "values": [0,20,40,60,80], "labels": false, "title": null}}}}]}
]}
]
}
